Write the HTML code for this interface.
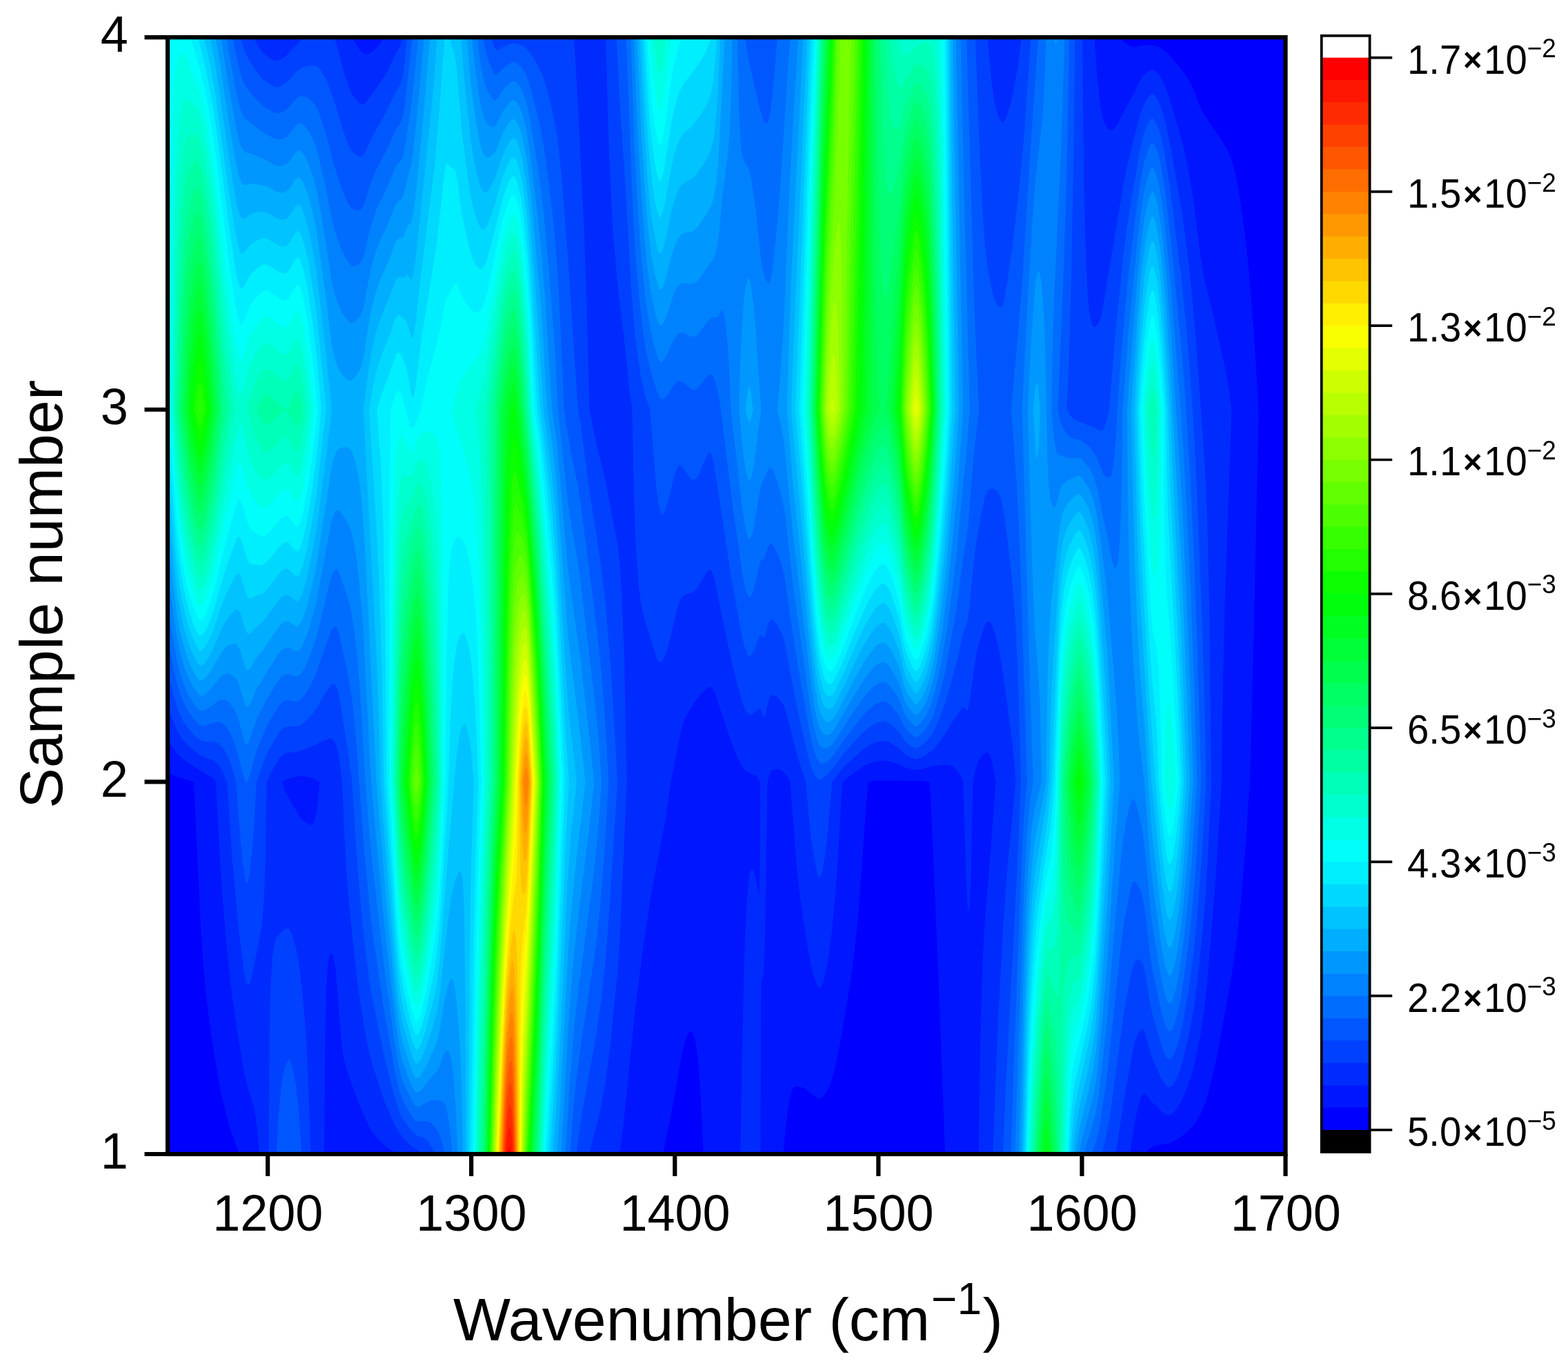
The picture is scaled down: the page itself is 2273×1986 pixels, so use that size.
<!DOCTYPE html>
<html lang="en"><head><meta charset="utf-8"><title>Contour plot</title>
<style>html,body{margin:0;padding:0;background:#fff;width:2273px;height:1986px;overflow:hidden}svg{display:block}text{font-family:"Liberation Sans",sans-serif;fill:#000}</style></head>
<body>
<svg width="2273" height="1986" viewBox="0 0 2273 1986">
<defs><clipPath id="fr"><rect x="243" y="54.1" width="1620.5" height="1618.9"/></clipPath></defs>
<rect width="2273" height="1986" fill="#fff"/>
<g clip-path="url(#fr)" fill-rule="evenodd" shape-rendering="geometricPrecision">
<rect x="243" y="54.1" width="1620.5" height="1618.9" fill="#0000ff"/>
<path fill="#0016ff" d="M346.7 1673l614.3 0 13.8-67.6 11.8-67.1 4.4-21.9 4.5-13.6 2.9-5.2 3-2.1 1.4 0.3 1.5 1.6 3 8 2.9 16.7 1.5 12.7 4.4 59.3 3.6 78.9 115.8 0 3.1-34.5 2.9-25.3 3-18.4 1.4-6.8 3-8.9 1.5-2.3 2.9-1.7 10.3 1.4 6 3 7.3 6.6 7.4 5.3 3 1.3 2.9-0.5 4.4-4 5.9-9.5 4.5-10.8 4.4-14.4 5.4-24.4 13.8-80.6 5.9-37.1 4.4-33.5 6.3-64.7 9.9-138.5 3.6-41.3 8.2-1.6 7.4-0.6 62 1 11.4 1.2 4.8 94 10.2 247.7 7.3 197.9 290.1 0 2.2-3.6 3-3.2 7.4-4.6 5.9-1.8 16.2-2.4 10.3-4.8 5.9-3.8 8.9-7.1 8.8-8.7 4.5-5.8 4.9-8.2 5.4-10.8 4.4-10.9 4-14.2 12.2-51.7 17.7-96.5 5.9-35.2 6.7-50.5 5.5-53.9 5.9-72 6-89.9 5.8-215.9 6.9-323.8 -7.9-125.9 -7.7-89.9 -4.9-42.6 -5.9-43.3 -4.5-26.6 -4.4-20.5 -4.4-14.7 -5.9-13.5 -8.9-14.7 -26.5-38.8 -4.4-9.6 -7.4-20.4 -8.9-17.7 -8.8-13.3 -19.2-22.5 -5.9-6 -8.9-5.8 -8.8-2.5 -10.3 0.2 -16.3 2.4 -5.9-0.9 -7.3-4.4 -3-3 -3.9-5.6 -1383 0 0 1067 4.5 0.8 11.8 4.7 23.1 6.8 10.4 215.8 3.8 54 4 42.3 8.7 65.6 11.9 70.6 9 37.3 5.2 18z"/>
<path fill="#002bff" d="M375.8 1673l94.2 0 1-143.9 1.8-89.9 1.8-34.5 1.5-13.1 1.5-6.7 1.5-2.8 1.4-0.1 1.5 1.9 1.5 4.1 2.9 16.3 8.6 106.8 3.2 22.2 4.5 18.5 14.7 40.6 17.7 41 4.5 7.4 5.9 7.4 8.8 9.3 7.4 6.2 7.4 4.8 8.8 4.5 320.3 0 5.8-44.8 16.2-160.8 11.8-92.2 11.8-78.3 20.7-107.7 7.9-55.8 3.9-17.2 10.3-53.6 3-11.4 2.9-8.5 7.4-14.3 10.3-15.1 13.3-14.8 2.9-2.2 3-0.9 2.9 1.7 4.5 8.8 23.6 70.8 5.9 15.1 7.4 15.8 5.9 8.8 4.4 3.2 8.8 3.4 3 1.8 2.9 2.9 3.3 5.7 -0.3 124 -1.2 37.9 -0.3 2.5 -5.9-30.4 -2.9-7.2 -1.5-0.9 -1.5 1.6 -1.5 4.5 -1.4 8.4 -3.4 39.4 -2.4 54 -2 72 -4.5 233.8 29.2 0 0.8-249.9 1.4-5.9 1.5 2.1 1.5-18.9 1.5-49.2 3.5-217.8 2.4-9.5 2.9-5.8 3-2.2 4.4-1.3 4.4 0.4 5.9 3.7 4.4 5.2 5.4 9.5 9.4 121.3 2.9 29.1 4.5 34.2 10.3 65 4.4 22.3 3 10.5 4.4 12 3 4.2 1.4 0.1 1.5-1.4 3-6.9 4.9-20.6 3.9-22.7 4.4-35.9 4.5-47.3 2.8-38 7.2-125.9 7.7-6.2 25-17.5 11.9-4.9 8.8-1.8 7.4-0.4 8.8 1.4 13.3 4.1 8.9 4.9 13.2 3.1 5.9-0.3 20.7-5.1 16.2-2.2 8.9 0.9 2.9 1.2 4.5 3.6 7.3 9.7 3.9 9.5 5 157.4 1.5 24.7 1.4 7.9 1.5-9.6 1.8-36.5 2.9-143.9 4.2-19.1 4.4-12.3 5.9-7.8 4.4-3.4 3-0.3 1.4 1.2 1.5 2.7 3 10.2 5.3 28.8 -8.3 113.6 -7.2 84.2 -3 54 -3.9 125.9 -2.5 161.9 219.5 0 6.6-43.7 3-15.4 5.9-20.7 2.9-6 1.5-1.5 1.5-0.5 1.5 0.6 8.8 11.9 7.4 6.5 5.9 6.6 5.9 4.5 4.4 1.6 3-0.4 2.9-1.7 4.4-4.5 4.5-6 4.4-8 7.4-17.3 5.1-13.9 6.7-23.3 7.4-36 5.9-37.1 4.4-36.9 12.6-154.5 8.9-143.9 2.1-146.6 2.8-123.3 9.6-269.8 -5-36 -5.9-31.7 -16.3-71.5 -10.3-41.1 -4.4-21 -4.4-28.9 -9.4-75.6 -6-35.9 -6.8-33.1 -5.4-20.9 -15.2-52.6 -4.5-13.4 -4.4-11 -4.4-8.6 -3-4.4 -4.4-4.7 -4.4-2.4 -3 0.3 -5.9 3.5 -5.9 6.1 -5.9 9.6 -8.8 18.3 -8.9 15.8 -11.8 24.1 -5.9 8 -4.4 2.4 -1.5-0.2 -2.9-1.9 -4.5-6.8 -2.9-8.8 -3-14.4 -2.9-21.1 -2.8-27.7 -3.9-54 -1028.5 0 -9.4 12 -7.4 7.7 -5.9 4 -4.4 1 -4.4-1.5 -4.4-4.4 -6-8.8 -5.3-10 -269.1 0 0 1020.4 4.5 2.5 8.8 13.3 7.4 8 10.3 7.4 32.5 20 4.4 3.7 3.5 4 5.7 107.9 3.5 54 6.1 71.9 6.3 61 9 64.9 10.2 60.1 4.4 20.1 8.8 27.6 3 13.4 2.9 21.9zM437.8 1188.4l-4.5-6.4 -19.2-33.3 -2.9-6.9 -2.4-8.4 3.9-2.4 5.9-2.2 10.3-2.9 7.4-1 5.9 0.5 8.8 2.1 5.9 2.3 6.4 3.6 -3.1 35.9 -1.8 10.8 -2.9 10.6 -1.5 2.9 -1.5 1.7 -1.5 0.6 -1.4-0.2 -7.4-3.9z"/>
<path fill="#0041ff" d="M389.4 1673l61.3 0 -5.6-143.5 -2.9-47 -3.9-43.3 -5-41.5 -4.4-24.3 -5.9-19.6 -3-5.8 -2.9-2.3 -1.5 0 -2.9 1.4 -11.8 11.3 -1.5 3 -1.6 5.8 -2.8 20.4 -2.3 33.6 -1.6 53.9zM589.6 1655l7.5 7 11.8 7.3 4.6 3.7 240.7 0 15.8-62.1 8.3-45.8 6.9-54 9.9-101.9 3-42.5 3.5-71.4 6.9-161.9 -3.6-179.9 -4.5-107.9 -2.3-31.7 -2.6-22.3 -16.8-89.9 -14.6-60.3 -9.5-47.7 -4.4-161.9 -3.9-107.9 -10.2-203 -2.9-48.9 -1.7-17.9 -247.9 0 -1.3 6 -2.9 8.2 -7.4 13 -11.8 24.9 -22.1 32.3 -8.9 11.3 -2.9 1.7 -1.5-0.1 -2.9-1.4 -4.5-4 -5.9-7.5 -4.4-8.3 -8.9-26.3 -10.3-38.8 -3.5-11 -43.7 0 -25.1 26.1 -8.8 6.3 -5.9 1.6 -3-0.3 -4.4-1.7 -11.8-8.9 -5.9-7.6 -8.6-15.5 -125.7 0 0 973.8 3 2.2 1.5 2 10.3 26.2 4.4 8.1 4.4 6.1 8.9 9.5 14.7 12.1 5.9 3.1 13.3 4.4 5.9 3.8 3 3.3 4.4 7.2 7.9 17.5 7.2 107.9 9.9 107.9 7.5 59.4 2.9 14.6 1.5 3.6 1.5 1 1.4-1.2 1.5-2.9 4.4-15.9 11.2-58.6 2.4-18 2.6-35.9 1.3-36 2-125.9 5.6-11.8 11.8-20.8 3-3.9 4.4-3.4 5.9-2.3 13.3-1.8 5.9-1.5 22.1-8.8 8.9-5.2 10.3-3.2 2.9 0.3 1.5 0.7 3 3 1.4 2.5 3 9.2 1.5 7.8 5.2 39.2 2.9 71.9 3.1 54 3.5 45 6.2 62.9 7.1 63.1 9.6 62.8 5.2 26.1 5.9 24 17.7 53.1 13.2 30.9 4.5 8.9 5.9 9.2zM1439.3 1673l177.9 0 11.2-72.8 12.7-71.1 3.5-17.1 4.5-13 4.4-6.3 1.5-0.7 1.4 0.2 1.5 1.3 3 6.5 5.9 23.3 2.9 9.1 13.3 29.8 2.9 5.4 4.5 6.2 2.9 2.3 3 0 2.9-2.3 4.4-6.7 4.5-9.2 3.8-10.8 10.9-43.7 7.4-39.4 7.9-60.8 8.3-88.7 4.5-70.5 5.1-110.6 -2.9-251.9 -3.5-143.9 -3.6-71.9 -12.8-177.3 -4.9-56.6 -5.7-53.9 -8.6-66.4 -16.5-95.5 -7.4-36 -7.1-24.7 -3-7.3 -4.4-7.7 -2.9-3.2 -3-0.6 -4.4 3.5 -4.4 6.3 -4.5 9.2 -4.4 12.9 -16.6 65.6 -5.5 25.4 -32.5 194.2 -1.5 5.9 -2.9 7.7 -4.4 6 -1.5 0.8 -1.5-0.1 -1.5-1.4 -2-4.7 -3.3-18 -2-21.7 -2.7-50.2 -3.1-125.9 -2-197.9 -87.7 0 -6.3 45.5 -7.4 39.4 -4.4 17.3 -4.5 14 -2.9 5.8 -1.5 1.4 -1.5 0.1 -2.9-3.2 -3-6.6 -2.9-9.2 -3-14.1 -4.4-33.4 -5.3-57 -553.3 0 4.8 161.9 3.2 71.9 3.2 54 6.1 72 8.7 70.8 8.8 83 3.7 26 1.9 108 3.3 90.8 4.4 58.5 3 22.7 4.4 21.6 17.7 56.3 2.9 6 1.5 1.7 1.5 0.6 1.5-0.5 1.4-1.5 3-5.5 4.4-12.4 4.4-16 8.9-37.8 3-10.2 2.9-7.4 4.4-5.9 3-1.4 8.8-2.1 4.5-3 5.9-7.6 11.8-20.1 2.9-2.7 1.5-0.2 1.5 0.9 2.9 6.3 3 11.6 18.6 91.1 8.1 36 11.6 43.6 3 9.1 2.9 6.3 4.5 4.9 2.9 0.5 4.4-2.4 5.9-5.7 1.5-0.9 1.5 0.1 1.5 1.7 2.9 8.4 1.5 2.3 1.5-2.6 5.9-24.2 2.9-4.5 3-0.7 4.4 2 5.9 5.5 4.4 7.1 3 7.1 19.1 72.9 10.4 31.4 4.7 53.9 4.1 37.1 5.9 33.9 3 10.4 1.5 2.6 1.4 0.2 1.5-2.3 1.5-4.7 4.4-25.5 4.4-37.4 5.4-68.2 13.8-17.9 13.3-12.8 20.6-18.2 8.9-5.5 7.4-3.2 10.3-1.8 4.4 0.6 4.5 1.4 14.7 8.7 8.9 9.4 10.3 5 4.4 1.2 4.4-0.8 8.9-4.1 5.9-4.1 5.9-5 6.2-6.9 8.6-11.4 13.2-22 7.4-9.5 5.9-9.6 1.5-1.3 1.5-0.1 4.4 4.8 1.5-1 1.4-4.5 1.5-8.2 8.9-63.3 2.9-14.4 5.9-21.1 4.4-12 1.5-2.5 3-2.6 1.4-0.1 1.5 0.9 1.5 1.9 2.9 6.7 7.4 25 5.9 31.9 14.8 110.8 2.9 29.7 1.8 25.9 -12.1 125.9 -6.4 89.9 -7.6 143.9z"/>
<path fill="#0057ff" d="M400.9 1673l36.5 0 -4.1-59.7 -4.4-40.7 -3-16.5 -2.9-11.9 -3-6.7 -1.4-0.8 -1.5 0.8 -3 6.2 -2.9 11.1 -3 16.3 -4.4 45.8zM620.6 1655l6 8.9 4.3 9.1 204.5 0 8.1-58.1 20.6-113.5 7.4-50.8 5.1-47.4 5.2-61.9 11.9-186.6 1.2-21.3 -1.8-36 -8.3-137.4 -6.4-78.5 -8.4-70.6 -16.2-103.1 -11.8-90.5 -4.2-23.6 -14.2-215.8 -8.4-107.9 -3.3-36 -3.8-32.8 -3.4-21.2 -5.5-25.8 -8.8-33.1 -4.5-12.7 -4.4-10 -7.4-13 -7.3-11 -5.9-5.9 -5.9-3.6 -7.4-2.2 -5.9 0.4 -8.9 3.5 -10.3 5.4 -2.9 0.4 -1.5-1.1 -1.5-2.4 -4.9-14.8 -121.6 0 -4.8 48.7 -1.5 8.7 -2.9 9.4 -8.9 15.3 -11.8 25.8 -19.2 33 -13.2 28.7 -3 3 -2.9 0.5 -4.5-1.7 -5.9-4.6 -2.9-3.8 -3-5.5 -8.8-23.7 -10.4-35.1 -10.3-29.9 -2.9-7 -4.5-8 -5.9-8.9 -2.9-2.8 -4.4-1.4 -7.4 0.4 -4.4 0.7 -5.9 2.1 -7.4 5.1 -10.4 12.3 -5.9 5.3 -7.3 4.4 -4.5 1.1 -2.9-0.2 -5.9-2.3 -10.3-7.1 -4.5-3.9 -4.4-5.4 -11.8-18 -5.9-10.7 -4.4-11.2 -3.9-13.3 -106.8 0 0 927.2 3 3 2.9 7.2 5.9 23.2 5.9 17.7 5.9 12 7.4 11.1 11.8 13.1 5.9 4.7 5.9 1.8 14.8 0.2 2.9 0.7 3 1.7 4.4 4.2 4.4 5.9 5.9 11.6 5.9 16.8 4.8 17.2 4.1 55.7 4.7 52.2 4.1 32 1.5 5.6 1.5 1.3 1.5-2.9 1.4-6.9 4.5-37.5 2.9-39.9 3.4-59.6 11.4-31.8 4.4-10.7 14.7-26.1 4.5-6.2 4.4-3.4 4.4-1.8 4.4-0.5 10.4 0.2 2.9-0.8 4.5-2.6 8.8-7.7 10.3-12.3 3-4.3 7.4-13.7 11.8-18 1.4-1.5 3-0.8 2.9 1.8 1.5 2.4 3 9.9 2.9 16.7 10.3 64.1 5.9 43.8 7.4 114.7 7.3 86.4 8.3 72 5.1 33.9 3.7 20 15.5 75.3 14.7 58.3 7.4 22.1 5.9 11.2 13.3 17.7 5.9 4.3 10.3 3.6zM1453.9 1673l143.5 0 7.4-32.1 3.9-21.9 21.2-156.1 8.8-46.7 3-12.8 2.9-8.7 3-3.8 1.5-0.5 2.9 0.7 3 3.1 2.9 7.1 3 13 6.7 42.8 3.6 15.6 13.3 45.4 5.9 13.4 2.9 3.7 1.5 0.6 2.9-1.2 3-4.3 4.4-10.2 4.4-13.8 5.9-27.9 7.4-42.8 7.4-55.3 6.5-67.1 6.5-89.9 5.2-89.9 -2.3-108 -3.1-107.9 -6.1-161.9 -4.9-107.9 -4.4-72 -6.9-89.9 -7-71.9 -17.9-143.9 -8.4-52 -4.4-19.8 -3-10.2 -2.9-7.7 -3-5.6 -2.9-2.7 -1.5 0.1 -1.5 1 -4.4 7 -4.4 10.5 -4.4 15.1 -3 13.4 -16.2 96.7 -7.4 55 -11.5 115 -9.1 107.9 -3 14.9 -3 9.3 -2.9 5.3 -1.5 1.1 -1.5 0.2 -7.3-3.6 -31-12.4 -3-2.4 -2.9-3.6 -5.3-8.8 3.7-89.9 3.4-125.9 2.8-161.9 1.9-161.9 -63.6 0 -10.8 151.6 -5.9 63.4 -10.3 88.1 -7.4 51.2 -2.9 17.5 -3 13 -1.5 4 -1.4 2.1 -1.5 0.5 -3-2.2 -2.9-4.4 -3-7 -2.9-10.2 -5.9-30 -4.5-37.3 -3.4-48.5 -3.7-71.9 -6.9-179.9 -520.1 0 4.5 87 8.8 133.2 8 139.6 4 53.9 4.3 40.2 5.9 38.9 5.9 25.7 7.4 21.1 8.6 108 3.1 25.8 3 14.1 1.5 3.3 1.4 1 1.5-1 3-5.8 4.4-14.7 8.8-35.8 3-8.7 3-4.5 1.4-0.8 3 0.9 2.9 3.2 7.4 11.4 3 3.5 2.9 1.8 3-0.2 2.9-2.8 3-5 11.8-27.6 2.9-3.8 1.5-0.3 1.5 1.4 1.4 3.5 3 13.3 25.1 165.7 14.3 77.9 4.9 21.4 4.4 10.2 1.5 1.5 1.4 0.4 1.5-0.7 4.4-6.4 7.4-19.9 1.5-2.7 1.5-0.8 2.9 3.3 1.5 0.6 1.5-2.8 4.4-16.7 2.9-5.8 1.5-1 1.5 0 2.9 2.2 4.5 6.1 4.4 7.8 2.9 6.8 3 9.2 19.2 99.9 13.3 58.3 4.4 17.1 3.2 9.9 4.2 8.4 4.4 5.2 1.5 0.7 2.9 0 3-1.8 5.9-5 8.8-9.8 14.8-20.2 26.5-29.3 10.4-9.2 7.3-4.9 4.5-2.1 5.9-1.7 4.4-0.2 4.4 1.3 4.4 2.5 13.3 11.9 8.9 14 8.8 6.5 4.4 2.3 4.5-0.1 7.3-4.6 7.4-7.1 5.9-8 4.5-8 5.6-12.8 10.6-29.4 16.2-58.6 7.4-34.8 5.9-15.2 1.5-6.2 2.4-17.7 4.9-51.7 4.5-37.4 7.3-44.6 5.9-27.8 1.5-4.2 3-4.9 2.9-2.3 3-0.4 2.9 1 4.5 3.4 2.9 3.9 3 6.9 4.4 22.2 7.4 59 4.4 40.9 4.4 55.2 4.1 88.8 4 143.9 -5.1 116.6 -16.3 313.7z"/>
<path fill="#006dff" d="M640.4 1655l3.9 18 182.1 0 5.3-70.7 4.4-42.3 7.4-54.5 18.3-120.3 4.6-36 3.7-36 5.8-73.4 6.5-106.4 -3.5-61.9 -4.4-64 -4.5-50.8 -4.2-39.2 -23.8-185.9 -4.4-28 -10.3-49.1 -9.5-60.8 -7.3-161.9 -3.3-53.9 -3-36 -5.8-54 -8-61.8 -5.9-35.5 -6.4-28.6 -11.3-42.6 -4.5-11.3 -5.9-10 -2.9-3.2 -4.4-3.5 -3-1.1 -2.9 0.1 -3 1 -4.4 2.8 -7.4 5.9 -7.4 7.6 -1.4 0.9 -1.5 0 -3-3.7 -7.3-17.9 -4.5-15.9 -3.4-17 -102 0 -11.1 98.4 -3 17.3 -2.9 7.2 -7.4 11 -11.8 26.9 -17.7 33.8 -8.3 21.3 -6.5 22 -2.9 7.8 -1.5 2.2 -2.9 2.3 -3 0.6 -3-0.1 -4.4-1.5 -4.4-4.4 -4.4-8.1 -4.5-10.2 -5.9-16.2 -10.3-32.9 -8.8-35.3 -10.4-31.6 -2.9-7.3 -3-5 -7.3-7.6 -4.5-3.4 -4.4-1.9 -4.4-0.5 -3 0.8 -4.4 3.6 -11.8 14.5 -7.4 4.8 -5.9 1.7 -4.4-0.4 -4.4-1.7 -16.3-10.6 -5.9-5.9 -13.2-15.6 -4.5-6.5 -2.9-6.2 -5.9-19.3 -9.3-44 -95.5 0 0 880.7 3 3.8 2.9 9.2 5.9 30.2 5.9 22.9 4.5 12 7.3 15 4.5 7.2 6.3 8.3 5.5 6.1 2.9 2.1 3 0.9 2.9-0.1 16.2-5.3 4.5-0.5 5.9 2.1 5.9 5.2 5.9 10.2 6.4 15.3 3.9 13.1 7.4 30.3 1.5 5.2 2.9 6.6 1.5-0.9 2.9-6.7 11.8-41.5 13.3-31.2 5.9-10.8 11.8-19.5 3-3.7 2.9-2.5 4.4-2.2 3-0.6 10.3 1.7 4.5-0.1 4.4-2.9 4.4-5.3 7.4-11.3 10.3-20.8 8.9-26.7 13.2-36.2 1.5-2.3 3-1.9 1.4 0.1 1.5 1.1 1.5 2.4 2.9 9.6 10.4 47.2 7.3 41.5 5.9 55.7 11.9 165.2 8.8 91.9 4.4 34.9 14.8 100.5 17.7 99 4.4 18.8 4.4 14 3 6.3 11.8 20.7 4.4 5.3 3 1.8 2.9 0.5 8.9-0.8 5.9 1.7 4.4 2.7 4.4 4.8 3 4.7 2.9 5.9zM1465.3 1673l116.9 0 6.4-16.8 4.4-18.1 11.2-73 19.8-186.2 5.9-44.5 8.8-44.2 3-9.3 1.5-2.5 1.4-1 1.5 0.4 1.5 1.6 4.4 8.5 3 8.5 2.9 12.7 3 19.4 5.9 53.2 2.9 20 14.8 69.4 4.4 14.4 3.6 7.6 2.3 2.2 1.5-0.1 2.9-3.4 3-6.8 3.2-9.9 5.6-24.1 7.2-47.8 6.1-47.9 4.4-42.5 4.6-53.5 7.9-125.9 -5-179.9 -5.2-143.9 -6.1-125.9 -7.9-125.9 -4.5-54 -14-143.9 -8-72 -4.6-30.5 -4.4-23.4 -2.9-11.3 -3-8.5 -2.9-5.5 -1.5-1.1 -1.5 0.1 -1.5 1.4 -2.9 5.6 -6.4 19.3 -5.4 26.5 -5.9 41.9 -11.8 96.7 -5.2 50.7 -7.2 90 -3.7 53.9 -1.8 36 -2.8 34.5 -2.9 19.9 -1.5 5.1 -1.5 2.5 -1.5 0.7 -4.4-1.4 -2.9-2 -1.5-2.1 -8.9-23.5 -4.4-7.7 -5.9-7.1 -13.3-10.3 -2.9-1.2 -5.9-0.6 -4.4-2.1 -4.5-3.7 -4.4-4.8 -2.9-4.8 -3-6.6 -2.9-10.1 -1.5-7.6 -0.5-3.1 0.5-13.2 7.4-176.8 3.3-97.8 2.8-107.9 2.7-143.9 -45.1 0 -12.4 177.8 -11.8 191.7 -15 170.1 7.6 102.4 3.9 77.5 3.9 107.9 7.4 251.9 -4.6 53.9 -2.8 54 -10.6 269.8zM1183.5 1097.4l3.8 6.6 2.9 2.3 3 0.1 2.9-1 5.9-3.9 7.4-8.1 13.3-19.9 29.5-37.9 5.9-6.1 8.8-7.4 4.5-2.6 5.9-2.2 4.4-0.3 2.9 0.9 4.5 2.9 2.9 2.7 11.8 14.3 7.4 16.2 4.4 5.6 7.4 6.5 2.9 1.9 3 0.3 2.9-1.3 6.2-5.6 5.6-7.1 4.5-7.4 4.4-9.6 9.5-29.8 8.7-36 16.1-90 8.5-65.9 6.8-42 2-19.2 7.4-94.1 7.6-66.6 -3.5-71.9 -4.1-107.5 -10.3-360.2 -274.2 0 -6.1 71.9 -3 27.3 -2.9 17.8 -1.5 4.9 -1.5 2.4 -1.5 0.3 -1.4-1.3 -3-5.1 -4.4-13.2 -16.2-71.9 -3-16.3 -2.2-16.8 -172.6 0 8.3 215.9 2.7 57 3.3 50.9 4.6 53.9 5.4 47.8 4.4 28.3 5.9 26.3 5.9 20.9 4.5 13.3 4.4 8.4 2.9 1.8 3-1.1 2.9-2.8 10.4-15.6 2.9-3.6 3-2.4 2.9-0.7 3 0.7 4.4 2.9 8.9 7.4 2.9 1.5 3 0.2 2.9-1.3 3-2.8 10.3-13.7 4.4-4.2 3-0.4 1.4 1 3 4.9 4.4 14.6 4.4 24.3 18.5 150.1 14 96.9 4.4 21.5 3 7.8 1.5 1.9 1.4 0.3 1.5-1.2 1.5-2.5 2.9-8 8.9-38.6 1.5-3.4 4.4-2.8 5.9-16.7 1.5-2.7 1.4-1.6 1.5-0.4 1.5 0.7 4.4 6.9 5.9 13.9 4.4 13.2 3 12.4 14.6 100.3 18.6 107.9 6.6 33.4 3 10.7z"/>
<path fill="#0082ff" d="M654.4 1655l1.4 18 163.9 0 6.1-103.2 7.4-90 5.9-50.3 20.6-155.1 5.9-55.6 4.4-53.9 2.2-31.5 -4-54 -5.5-59.1 -22.2-185.8 -3.7-24.9 -8.1-45 -5.9-40.7 -14.1-130.2 -3.5-71.9 -3.5-54 -7.2-89.9 -6.6-72 -7.9-61.1 -10.4-64.8 -5.8-28.2 -2.9-9.9 -4.5-11.2 -5.9-9.3 -4.4-3.4 -1.5-0.3 -2.9 0.8 -5.9 4.6 -7.4 8.4 -7.4 11.4 -2.9 2.9 -1.5-0.1 -1.5-1.1 -2.9-3.7 -5.9-9.6 -3-8.2 -2.9-11.3 -4.5-24.1 -4.3-33.6 -85.2 0 -9.3 93.5 -10.3 67.1 -3 13.3 -1.5 3.2 -5.9 6.7 -2.9 4.8 -11.8 27.9 -16.2 33.5 -8.9 26.5 -8.8 38.7 -3 8 -2.9 4.1 -3 2.3 -4.4 1.8 -3 0.2 -2.9-1.2 -1.5-1.2 -5.9-8.7 -5.9-11.9 -5.9-15.6 -5.9-18.5 -3-11.8 -7.3-40.3 -13.3-58.2 -5.9-15.4 -5.9-11.3 -4.4-6.4 -5.9-5.5 -3-1 -1.5 0.2 -4.4 3.1 -8.9 12.1 -4.4 4.3 -7.4 3.6 -5.9 0.5 -5.9-1.9 -19.1-11.1 -22.2-17.6 -2.9-4.5 -3-6.9 -4.4-16.1 -8.8-44.6 -7.9-45.7 -86.6 0 0 834.1 3 4.7 2.9 11.3 5.9 37.1 5.9 28 5.9 18.9 7.4 17.2 8.9 14.8 4.4 6 2.9 2.8 4.5 1.5 4.4-1.4 6.2-3.7 11.5-9 5.9-2.6 5.9 0.5 2.9 1.7 3 3 5.9 8 3 5.4 4.4 12.7 7.4 27.4 2.9 6.6 1.5 0.4 1.5-1.5 1.4-2.9 8.9-26.6 4.4-10.5 13.3-26.3 17.7-28 4.4-4.2 5.9-2.5 4.4 0.4 8.9 3.1 3-0.2 4.4-3.7 5.9-9.9 6.1-13.2 10.1-28.6 22.1-90.3 3-6.4 2.9-2.8 1.5-0.3 1.5 0.9 1.5 2.1 10.3 29.7 5.9 20.5 4.2 21.2 3.2 23.1 3.3 30.9 4.1 47.3 7.8 132.6 5.4 69.8 4.5 47.1 17.7 154.3 14.7 106.5 5.9 34 3 12.8 4.4 12.9 11.8 25.3 4.4 6.5 3 1.8 2.9 0 8.9-5.2 7.4-3.7 2.9-0.9 7.4 0.7 5.9-0.3 2.9 1.9 3 6.1 4 16zM1471.2 1673l99.8 0 16.1-54 2.9-13.8 3-19.1 12.3-111 11.3-139.8 8.8-95.6 3-24 4.4-26.4 4.5-20.1 2.9-8.8 1.5-1.9 1.5-0.1 1.4 1.7 3 7.8 5.9 23.4 2.9 15.8 4.5 35.6 8.1 88.5 14 85.5 4.4 20 4.4 14.1 3 4 1.5-0.1 2.9-3.9 4.4-13.3 5.9-26.8 8-61.5 5.8-53.9 4-44.1 8-117.8 -4.3-143.9 -5.5-143.9 -6.1-126 -6.9-113.9 -15.2-191.8 -8.4-86.8 -4.4-33.5 -4.5-25.5 -4.4-16.9 -2.9-6.8 -1.5-1.3 -1.5 0.2 -1.5 1.8 -4.4 11.5 -4.4 17.2 -4.4 24.9 -5.9 48.1 -13.6 139 -8.1 107.9 -1.4 108 -2.1 71.9 -2.6 36 -1.8 9.4 -1.4 3.3 -1.5 0.6 -1.5-1.4 -2.9-7.8 -7.4-39.1 -7.4-31.3 -5.9-32 -4.4-15.7 -4.4-10.6 -5.9-9.5 -8.9-9.7 -2.9-2.1 -3-0.3 -4.4 1.1 -4.4-0.1 -8.9-1.9 -10.3-3.5 -1.5-2 -1.5-4.2 -1.5-6.9 -2.9-22.9 -2.3-29.3 1.5-89.9 3-89.9 9.6-203.8 4.9-156 -27.2 0 -1.3 49.3 -1.8 40.6 -2.8 36 -8.7 76.5 -4.4 56.5 -7.2 118.8 -8.3 161.9 11.1 388.9 5.2 150.8 -3.8 21.7 -2.9 26.6 -3.3 41.6 -2.6 44.8 -3.3 81.1zM1187.8 1079.4l2.4 3.5 4.4 2.4 4.5-0.5 5.9-4 4.4-5.2 25.1-39.7 19.1-27.3 13.3-14 5.9-3.9 5.9-2.3 3 0 2.9 1.2 5.9 5.1 13.3 19.6 7.4 20.2 2.9 5.2 10.4 11.3 2.9 1.4 3-0.6 4.4-4.1 5.9-7.9 4.4-8 4.5-10.3 5.9-19.3 8.8-40.2 8.9-52.5 13.2-103.2 8.9-95.7 5.9-54.9 4.6-62 -7.6-288.3 -5.7-251.3 -246.7 0 -4.2 54 -10.4 161.9 -5.9 70.9 -5.9 53.7 -3 13.3 -1.4 2.8 -1.5 0.6 -1.5-1.3 -2.9-6.9 -3-10.7 -2.9-15.4 -8.9-82.9 -5.9-37.8 -2.9-11 -1.5-3.3 -5.9-8.9 -3-12.7 -2.1-22.4 -1.7-36 -2.3-107.9 -154.7 0 5.6 161.9 3.8 71.9 3.9 57.5 4.2 50.5 4.6 42.4 5.9 36.5 5.9 26.2 5.9 18.8 3 4.7 1.5 0.7 1.4-0.3 4.5-5.4 11.8-26.4 5.9-8.7 2.9-2 4.5-0.3 11.8 5.5 2.9 0.6 3-0.5 2.9-1.9 3-3 11.8-16.2 4.4-4.7 2.9-1.4 7.4-0.4 1.5-1.3 4.4-8.5 1.5-0.5 1.5 2.5 3.1 15.5 3.5 36 2.2 37.3 2 52.6 16.7 143.9 4.9 31.1 3 9.8 1.5 2.3 1.4 0.3 1.5-1.8 1.5-3.5 2.9-11 7.4-46.6 3-14.2 10.3-23.3 2.9-2.8 1.5 0.2 3 3.9 4.4 11.7 5.9 19.1 4.4 18.9 3 18.9 10.6 95 24.8 175.3 3.8 22.5 3.6 16.8 2.9 10.6z"/>
<path fill="#0098ff" d="M663.7 1673l149.8 0 10-179.9 6.7-90.3 5.9-56.1 17.7-143.7 7.4-69.6 -7.6-72 -13.1-113.5 -13.2-91.8 -4.5-36.3 -14.7-168.3 -3-25.6 -4.9-32.2 -10.1-161.9 -4.2-53.9 -4.4-45.1 -13.8-116.8 -3.9-23.8 -4.4-19.4 -3-9.6 -4.4-10.2 -4.4-6.3 -3-1.4 -1.4 0.2 -3 1.7 -7.4 8.9 -5.9 9.4 -8.8 17.6 -1.5 1 -1.5 0.2 -5.9-1.8 -2.9-2.3 -1.5-2.1 -3-6.6 -2.9-9.7 -4.4-22.2 -5.9-42.1 -4.8-43.4 -69 0 -9.7 107.9 -5.5 54 -4 24.4 -4.4 15.7 -5.9 26.5 -3 5.6 -5.9 4.5 -2.9 4.7 -10.3 25.6 -11.8 25.3 -5.9 14.5 -4.5 14 -4.4 17.2 -8.8 48.1 -3 10.5 -2.9 6 -4.5 5.3 -4.4 3.5 -3 1 -1.4-0.1 -3-1.7 -2.9-3.1 -7.4-11.1 -5.9-13.1 -5.9-18.5 -3-13.4 -7.3-50.6 -13.3-77.5 -4.4-17.7 -5.9-17.7 -4.5-11.1 -4.4-8.1 -4.4-5.5 -3-1.2 -1.4 0.4 -4.5 4.1 -7.4 10.9 -2.9 3.3 -5.9 3.3 -5.9 1 -5.9-1.3 -14.8-8.2 -7.3-2.8 -11.8-5.5 -8.9-2.3 -2.9-1.8 -3-4 -2.9-7.2 -5.9-24.8 -10.4-57.9 -11.1-71.1 -78.9 0 0 787.5 3 5.6 1.5 5.4 9.4 64.9 6.8 32.4 5.9 19 5.9 14.9 8.8 16.2 5.9 7.3 1.5 0.9 3 0.3 4.4-2.4 7.4-6.8 11.8-14.9 4.4-4.6 5.9-3.5 4.4 0 7.4 3.7 4.4 5 4.5 11.2 7.3 25.1 1.5 3 1.5 1.2 1.5-0.5 2.9-4.6 10.3-23.9 5.9-8.7 10.4-18 16.2-24.5 4.4-4.1 5.9-2.4 4.4 0.8 7.4 4.1 3 0.6 1.5-0.3 2.9-2.4 4.4-7.7 8.9-23.2 10.3-37.3 22.1-117.6 3-9.2 2.9-5.2 3-2.2 2.9 1.4 7.4 10.1 4.4 7.3 3 6.2 2.9 9 4.5 21.5 5.9 44 5.9 69.8 11.7 224.9 1.6 19.3 17.7 188 15.1 134.4 7 46.4 4.4 18.5 11.8 30.7 4.4 9.1 3 3.2 1.5 0.7 2.9-0.7 3-2.5 14.7-18.8 7.4-7.8 3.9-6.8 7.9-21.6 3-2.8 1.4 0 1.5 1.1 2.4 5.3 2 8.9 3 24.4 2.7 38.6zM1476.7 1673l87.1 0 5.6-25.5 14.7-56.1 4.5-22.6 3-21.7 13.2-147 10.3-158.1 8.5-108.6 -2.1-54 -2.9-54 -11.5-143.9 -3.8-35.9 -10.3-79.4 -3-19.2 -2.9-13.8 -4.4-15 -4.5-10.6 -10.3-15.2 -2.9-2.5 -1.5-0.3 -14.8 6.6 -5.9 4.1 -2.9 3 -3 6.3 -5.9 22.5 -1.5 2.7 -1.4 0.8 -1.5-0.8 -1.5-2.4 -2.9-10.9 -2.2-19.8 -1.7-36 -2.9-143.9 -2.1-64.9 -3.1-43 -2.8-17.6 -1.5-3.6 -1.4 0.5 -1.5 4.9 -1.5 9.4 -2.9 31 -4.2 65.3 -4.7 89.9 7.4 250 2.9 65.3 5.9 80.5 1.5 29.8 2.5 114.1 -9.9 39.4 -2.9 16.5 -3.8 34 -3.6 48.7 -3 59.2 -2.7 72zM1690 1403.2l3.3 9.3 1.5 1.7 1.5 0 2.9-4.4 3-9.4 4.4-20.1 2.9-17.4 4.5-36.8 7.4-76.8 8.6-115.9 -6.2-179.9 -7.9-179.9 -4.9-86.6 -13.3-201.2 -7.1-89.9 -6.1-57.7 -5.9-37.7 -4.5-17 -1.4-3.3 -1.5-1.6 -1.5 0.4 -1.5 2.1 -4.4 13.7 -4.4 20.7 -4.4 29.6 -6.9 68.8 -13.1 161.8 -1.3 18 1.8 161.9 1.5 72 2.6 71.9 3.9 72 5.1 71.9 3.6 36 7.2 60 7.4 100.6 2.9 31.1 13.3 97.1 3 17zM1191.5 1061.4l3.1 3.1 4.5 1.2 4.4-1.7 4.4-4.2 28-48.2 16.3-26.1 13.3-16.8 4.4-4.1 4.4-2.9 4.4-1.8 3 0 4.4 2.6 4.4 4.9 13.3 23.5 5.9 19.8 3 7.8 2.9 4.9 7.4 9.7 2.9 2.8 1.5 0.6 3-0.8 2.9-3 5.9-8.7 4.4-8.9 7.4-21.1 5.2-22.5 9.6-55.9 8.9-70 13.2-133.5 8.3-118.4 -10.6-539.6 -228.5 0 -11.7 197.9 -9.8 225.4 -4.4 66.3 -4.6 50 6.1 25.1 4.4 26.4 11.8 123 28 232.9 3.9 24.3 3.5 17 3 10.3zM1081.5 683.7l2.5 9.5 1.5 2.8 1.4 0.2 1.5-2.4 1.5-4.5 2.9-14.1 7.4-59.8 3.4-21.7 -1.9-20.9 -5.9-90.9 -3-36.3 -4.4-33.8 -1.5-6 -1.4-2.5 -1.5 1 -3 11.1 -2.2 16.4 -2.2 25.6 -3.3 64.4 -2.1 71.9 6.9 68.1zM954.3 467.8l2.8 4.3 1.5 0.3 2.9-3.3 4.4-10.2 10.4-31.8 4.4-9.1 3-4.2 2.9-2.4 3-1.1 2.9 0 8.9 1.5 2.9-0.2 3-1.3 2.9-2.4 5.9-7.2 16.2-23.3 3-5.3 2.9-8.5 3.7-21.7 5.2-56.5 7.4-57.9 2.7-29.5 2.4-54 1.8-89.9 -142.5 0 3.4 89.9 3.4 72 4.3 71.9 4 54 3.9 40.5 4.4 33 5.9 31.4 3 11.8zM1528.7 54.1l0.8 8.7 1.5 2.2 1.7-10.9z"/>
<path fill="#00aeff" d="M671.1 1673l136.1 0 4.9-72 9.3-184.4 4.4-70.4 6.2-68.9 16.6-143.9 -10.1-90 -11.2-86.6 -4.5-41.1 -16.2-218.6 -4.4-40.3 -9-63.1 -5-89.9 -3.7-55.7 -14.8-165.4 -5.9-50.2 -2.9-17.3 -4.5-19.5 -2.9-9.2 -4.4-9.7 -3-3.5 -1.5-0.5 -2.9 1.1 -4.4 4.9 -7.4 12.5 -4.4 9.8 -5.9 16 -3 5.5 -8.8 6.3 -3-0.3 -1.5-1.3 -4.4-8.7 -3-10 -7.3-40 -5.9-45.8 -6.1-68.7 -53.1 0 -9.2 107.9 -9.8 100.8 -4.5 40.1 -2.9 15.8 -1.5 3.9 -4.4 5 -1.5 2.9 -4.4 12.1 -1.5 1.9 -5.9 1.7 -2.9 3.1 -1.5 2.7 -8.9 23 -14.7 34.1 -5.9 17.2 -5.9 23.9 -4.4 23.8 -5.9 40.8 -3 13.1 -2.9 7.8 -6 9.8 -4.4 5.1 -1.5 0.9 -2.9 0.5 -3-1.2 -2.9-2.2 -7.6-8.8 -5.7-12.1 -4.4-14.6 -3-15.1 -7.3-60.9 -14.8-105.5 -4.4-20.6 -5.9-22.9 -4.4-13.6 -4.5-10.3 -4.4-6.3 -2.9-0.7 -4.5 4 -7.4 11.5 -2.9 3.4 -4.4 2.6 -4.5 0.8 -7.3-1.2 -13.3-7.6 -4.4-1.7 -17.7-2.7 -3 0.2 -7.4 2 -2.9-1 -1.5-1.5 -2.9-6 -1.5-4.7 -5.9-27.7 -8.9-52.1 -13.3-88.5 -5.8-32.9 -70.9 0 0 740.9 3 6.4 1.5 6.3 10.3 81.2 4.4 24.7 4.4 18.4 6.8 21.5 6.5 15.6 7.4 13.3 2.9 3.3 3 1.1 1.5-0.3 2.9-1.9 7.4-8.5 17.7-30.3 4.4-5.8 4.4-4 10.4-3.2 2.9 1.2 1.5 1.7 4.4 10.4 5.9 19.9 2.9 5.5 1.6 0.5 2.9-2.5 8.9-15.5 8.8-10.2 23.6-34.9 4.4-4.9 4.5-2.7 4.4-0.7 2.9 1.3 8.9 5.9 3 0 1.4-1.1 4.5-7.4 7.3-21 11.8-48.8 3-15.9 7.4-50.5 5.9-35.1 5.9-42.2 4.4-20.8 4.4-10.4 1.5-2.2 2.9-2.7 3-1 5.9-0.6 2.9 0.4 3 1.7 2.9 4 1.5 3.3 3 9.3 2.9 12.6 4.5 25.6 2.9 25.6 4.4 66.1 16.6 336.7 12.9 159.2 14.1 146.6 6.6 51.8 4.4 21.7 13.3 39.5 4.4 8.7 1.5 1.4 2.9 0.4 4.5-4.6 7.4-13.2 15.3-33.8 3.8-14.9 7.4-44.6 4.4-20.1 3-9.5 1.5-2.7 1.4-0.9 1.5 1.3 3 10.7 2.9 22.3 4.4 55.3 2.4 57.1zM1480.3 1673l78.5 0 3.2-22.2 3-15.3 14.7-61.1 4.4-21.5 4.5-27.8 3.4-32 12.8-173.3 10.2-186.4 -9.3-179.9 -2.9-36 -11.3-117.2 -4.4-29.5 -3.3-15.2 -4.1-13.9 -2.9-7.2 -7.4-13.3 -3-4 -2.9-1.3 -3 1.6 -8.8 8.1 -4.4 5.3 -5.9 10.9 -3 9.7 -3.4 22.1 -11.4 101.2 -2.7 42.7 -2 54 -2.6 161.9 -4.5 26.6 -10.3 51.7 -2.9 18.3 -4.5 43.1 -3.7 58.1 -4.9 125.9zM1691.7 1367.2l1.6 4.5 1.5 2 1.5 0.1 1.4-1.7 1.5-3.3 3-10.7 5.9-32.4 2.9-23.1 4.2-43.3 9.8-125.9 -5.8-161.9 -6.1-143.9 -17.3-305.8 -6.6-90 -6.2-61.8 -3-21.9 -2.9-16.4 -3-12 -1.4-3.7 -1.5-1.8 -1.5 0.4 -2.9 6.6 -4.8 20.7 -5.5 36 -3.8 36 -4.3 53.9 -8.8 125.9 1 54 4.8 179.9 2.9 71.9 4 72 8.6 104.4 5.9 93.2 2.9 36.6 13.3 114 4.4 28.2zM1194.4 1043.4l3.2 2.8 2.9 0.5 4.5-1.8 2.9-2.9 4.4-7.1 26.6-50.8 14.7-26 13.3-18.3 4.5-4.2 4.4-3 4.4-1.5 3 0.8 2.9 2.5 4.4 5.7 13.3 27.4 5.9 23 3 9.1 2.9 5.7 7.4 11.3 2.9 3.3 1.5 0.6 3-0.9 2.9-3.4 4.4-7.4 4.5-9.5 5.9-17.4 5.9-25.5 8.8-56.9 8.9-74.6 13.6-159.2 4.9-72 -9.3-539.6 -216.3 0 -17.2 341.2 -2.9 76.5 -3.7 121.9 8.1 99.8 28 269.8 4.5 33.3 4.4 24.4 4.4 15.1zM1501.5 657.8l1.5 7.1 1.5-4.7 1.4-18.2 1.8-48.3 -1.8-24.5 -1.4-11 -1.5-3.4 -1.5 3.7 -1.5 10.2 -2.1 25zM1081 593.7l3 14.2 1.5 3.2 1.4 0.1 1.5-2.9 1.5-5.5 1.7-9.1 -3.2-26.5 -1.5-5.6 -1.4-0.2 -1.5 5.3 -1.3 9zM953.6 413.9l2 4.5 1.5 1.4 1.5-0.3 2.9-5 4.4-13.6 8.9-35.2 4.4-12.5 4.5-8.7 2.9-3.7 3-2.2 4.4-1.5 8.8-1.6 3-1.5 4.4-4 7.4-9.8 7.4-11.7 5.9-10.7 2.9-8 4.4-23.1 3-30.2 9.3-182.4 -127.1 0 6.5 143.9 6.5 101.1 3 31.6 4.4 36.2 4.4 25.8z"/>
<path fill="#00c3ff" d="M675.6 1673l126.1 0 8.5-125.9 12.6-270 5.5-71.8 7.8-71.9 -10.3-89.8 -4.4-50.7 -11.8-194.5 -4.5-59.9 -5.7-54.8 -11.6-90 -6.5-107.9 -12.4-161.9 -5.1-51 -5.9-37.8 -2.9-12.8 -4.5-13.7 -2.9-6 -1.5-1.6 -1.5-0.6 -1.4 0.2 -4.5 4.4 -7.3 13.8 -4.5 10.7 -8.8 28 -8.9 16.4 -2.9 4.2 -1.5 1 -3-0.3 -2.9-3.3 -3-6.5 -4.7-17 -4.1-20 -4.4-27.6 -8.6-78.3 -5.9-72 -34.6 0 -3.8 54 -3.2 36.1 -12.9 125.8 -10.7 100.7 -3 22.9 -1.4 7 -1.5 3.7 -1.5 0.5 -4.4-5.7 -1.5-0.5 -4.4 3.9 -1.5 0.3 -4.4-1.7 -1.5 0.1 -2.9 2.8 -3 6.2 -7.4 20.4 -14.7 35.9 -5.9 19.1 -5.9 27 -4.4 27.3 -7 53.8 19.2 359.8 3.5 89.9 2.3 90 5.6 79.5 14.1 172.3 3.6 37.9 4.4 37.5 4.4 24.9 13.3 44.8 4.4 9.8 1.5 1.5 1.5 0.5 1.4-0.4 1.5-1.3 3-4.7 7.4-17.5 11.8-36.4 4.4-16.9 3.9-25.7 10.8-98.9 5.9-41.5 3-14.1 4.4-14 3-6.3 1.4-1.5 1.5 0.6 1.5 4.6 1.5 12.1 1.4 27.8 1.1 41.2 1.3 125.9zM1482.8 1673l72.2 0 2.6-26.8 4.2-27.2 16.4-72.5 4.5-23.1 4.5-30.3 3.7-36 12.8-197.8 6-125.9 -3-72 -2.9-53.9 -10.6-144 -3.2-32.9 -4.4-31 -5.9-26.8 -2.9-8.8 -7.4-15.8 -3-4.7 -1.4-1.2 -1.5-0.1 -3 2.3 -8.8 11.8 -4.4 8.5 -3.4 8.8 -2.5 8.5 -3 15 -2.9 28.3 -10.4 160.9 -2.2 57.1 -2.2 90 -4.4 35.4 -16.3 98.7 -2.9 26.7 -3 37.9 -3.7 71.1 -2.7 71.9zM1694.8 1333.1l1.5 0.2 1.4-1.8 1.5-3.7 4.4-19.8 4.5-28.7 4.4-42.2 7.9-103.7 -8.9-233.9 -9.3-167.4 -5.9-138.4 -3.2-53.9 -5.7-79.2 -5.9-60.9 -2.9-21.5 -3-16.1 -2.9-10.4 -1.5-2 -1.5 0.5 -2.9 7.6 -4.5 21.6 -4.4 30.9 -4.4 44.2 -3.7 49.3 -5.7 89.9 1.2 54 3.4 125.9 3.6 89.9 16.9 269.9 14.5 143.9 5.2 35 2.9 14.1zM1196.4 1025.4l2.7 2.2 4.4 0.1 2.9-1.9 3-3.7 14.7-29.2 14.8-31.5 14.7-28.6 13.3-20.5 4.5-4.7 5.9-4.2 2.9-0.8 1.5 0.2 2.9 1.9 4.5 5.6 2.9 5.4 11.8 28.3 5.9 26.3 3 10.4 2.9 6.6 7.4 12.8 2.9 3.7 1.5 0.8 1.5-0.1 1.5-1 2.9-3.9 7.4-15.4 5.9-18.2 5.9-26.6 8.9-62.6 8.8-82.8 4.7-56.4 10.2-143.9 -4.6-284.4 -3-255.2 -207.4 0 -19.1 431.7 -4.2 107.9 16.8 181.7 10.9 124.1 5.4 53.3 4.4 32.7 3 15.9 4.4 15.5zM285.8 960.5l2.9 3.5 3 1 1.5-0.5 2.9-2.5 5.9-8.2 4.4-7.9 14.8-34.1 5.9-11.3 4.4-6.3 10.4-10.8 1.4-0.4 1.5 0.5 3 4.1 8.8 27.2 1.5 2.8 1.5 1.4 1.4 0.3 3-1.8 7.4-8.7 7.3-5.1 3-3 22.1-30.2 5.9-5.9 4.4-2.1 3 0 2.9 1.6 7.4 6.6 3 1.1 2.9-1.5 1.5-2 4.4-10.9 5.9-20.4 11.8-57.5 3.7-23.9 20.7-161.9 -2.2-17.4 -5.9-58.9 -14.8-126.7 -4.4-25.7 -7.4-35 -4.4-15.6 -4.4-12 -3-4.9 -1.5-1.2 -1.4-0.2 -1.5 0.7 -3 3.2 -8.8 14 -3 2.7 -4.4 1.5 -4.4 0 -4.5-1.2 -14.7-8.6 -5.9-1.4 -8.9 0.7 -7.3 1.7 -3 1.4 -8.8 6.7 -3-0.7 -1.5-1.8 -1.4-3 -3-9.8 -4.4-22.4 -10.4-63.7 -14.7-103 -5.9-33.8 -5.1-25.2 -62.8 0 0 694.3 3 7.3 1.5 7.2 9.1 82.7 2.7 19.7 4.4 25.3 4.4 19.2 5.9 20.4 4.4 12.2zM953 359.9l2.6 6.4 1.5 1.1 1.5-0.8 2.9-6.7 3-10.7 8.8-42.6 3-11.5 4.4-13.3 3-6.7 2.9-4.9 3-3.4 4.4-3.1 10.3-5.5 5.9-6.1 11.8-17.3 5.9-11.3 3-7.5 2.9-11.5 1.5-8.8 2.9-25.9 3-44.4 2.8-71.3 -116.5 0 5.9 125.9 4.7 72 3.3 35.9 3.9 32.4 4.4 25.8z"/>
<path fill="#00d9ff" d="M679 1673l118.4 0 7.2-107.9 4.1-72 11.2-272.3 5-87.4 -5-70.8 -10.4-199.1 -4.6-71.9 -7.1-76.3 -10-85.6 -4.7-36 -15.2-233.8 -4.1-46.7 -5.9-44.4 -2.9-15.1 -4.5-16.1 -2.9-7 -1.5-1.9 -1.5-0.8 -1.4 0.3 -3 2.8 -2.9 4.9 -7.4 17 -4.4 13.6 -7.4 28.3 -11.8 32.2 -1.5 2.6 -3 2.8 -2.9 0 -1.5-1.1 -4.4-7.7 -5.8-17.7 -4.1-18 -3.4-19.2 -9.5-70.7 -8.2-97.5 -2.9-20.5 -7.7-25.9 -6.8 0 -9.2 125.9 -5.8 65.1 -20.7 164.4 -5.9 54.4 -3 20.3 -1.4 4.9 -1.5 0.7 -1.5-2.8 -5.9-20.3 -1.5-2.2 -2.9-2.1 -5.9-5.8 -1.5-0.4 -1.5 0.7 -1.4 1.7 -3 6.4 -5.9 17.2 -11.8 29.7 -5.9 16.6 -4.4 16.3 -3 13.8 -5.8 35.1 10.9 179.9 3.8 74.4 3.7 123.5 2.6 161.9 15.6 215.8 6.1 68 4.4 33.4 3 13.9 11.8 43.8 4.4 11 1.5 1.6 1.5 0.5 2.9-2.4 3-5.8 7.4-21.8 11.8-47.1 4.4-23.1 4.4-39.9 11.8-150.3 11.5-133.6 1.8-14.6 2.9-17 3-11 2.9-5.3 1.5 0 1.5 2 1.5 3.9 2.9 12.3 3 19.4 4 46.3 -3.4 107.9 -2 107.9zM1485 1673l67 0 2.6-37.8 3-26.2 2.9-17.2 19.2-87.3 5.9-39.9 4.4-43.4 3.6-54 12.3-233.8 -3.5-72 -7.7-125.9 -3.2-46.2 -2.9-31.1 -4.2-30.6 -4.7-23.8 -2.9-10.3 -5.9-14.9 -3-6.5 -2.9-3.6 -1.5-0.1 -1.5 1.1 -2.9 4.3 -7.4 13.3 -4.4 11.6 -4.5 16.5 -2.4 12.4 -3.5 31.3 -2.5 40.6 -4.3 90 -5.6 143.9 -0.9 11 -4.4 40.8 -17.7 116.9 -2.9 27.4 -3 37.7 -3 54 -2.9 71.5zM1690.3 1277.3l3 12.6 1.5 2.7 1.5 0.3 1.4-2 3-10 6.3-39.6 4-37.6 5.2-70.3 -6-161.9 -13.2-251.9 -4.1-125.9 -1.1-18 -4.8-71.9 -5.5-62.7 -2.9-24.1 -3-18 -2.9-11.5 -1.5-2.2 -1.5 0.5 -1.5 3.2 -2.9 12.4 -4.4 27.4 -2.6 21 -4.9 54 -5.7 89.9 2.8 108 3.3 89.9 3.7 71.9 9.3 153.7 8.1 116.2 6.4 71.9 4.6 42.8zM1197.9 1007.5l2.6 1.8 3 0.3 2.9-1.6 3-3.7 14.7-31 13.3-31.3 16.2-34.5 13.3-22.6 4.5-5.3 5.9-4.7 2.9-0.9 1.5 0.2 2.9 2.1 4.5 6.4 2.9 6.1 11.8 31.8 5.9 29.5 3 11.7 2.9 7.4 7.4 14.4 2.9 4.2 1.5 0.9 1.5-0.2 2.9-3 7.4-15.7 5.9-18.9 5.9-27.1 3.7-24.3 4.4-35.9 8.2-79.9 6.5-82 6.7-108 -5.8-539.6 -200.7 0 -20.9 539.6 10.5 124.1 12.8 163.7 5 51.5 2.9 24 4.4 26.1 4.5 15.7 2.9 6.3zM284.1 935.5l4.6 6.8 3 0.8 1.5-0.6 2.9-3.2 4.4-7.1 4.5-8.7 4.4-11 11.8-34.7 5.9-15.3 13.3-26.4 2.9-4.1 1.5-0.8 1.5 0.5 1.5 1.6 2.9 6.9 7.4 23.4 1.5 2.4 2.9 1.8 3-0.7 5.9-3.5 7.3-1.9 3-2 10.3-11.5 13.3-17.9 5.9-4.9 4.4-1.3 3 1.1 8.8 8.9 3 1.4 1.5-0.3 1.4-1.3 1.5-2.3 4.4-12.4 5.9-23.5 10.5-58.1 4.3-29.9 7.4-68.9 5.5-45.1 -12.3-125.9 -3.6-29.3 -10.3-61.6 -5.9-24.3 -4.4-12.9 -3-4.3 -1.4-0.4 -1.5 0.5 -3 3.2 -8.8 14.7 -3 2.7 -2.9 1 -4.5 0 -4.4-1.3 -17.7-10.2 -2.9-0.4 -4.5 0.7 -7.3 3.1 -7.4 4.7 -10.3 12.9 -1.5 1 -1.5 0 -1.5-1.1 -1.4-2.5 -3-9.3 -4.4-22.7 -10.4-66 -17.7-128.6 -7.3-41.9 -9.2-41.4 -54.3 0 0 647.7 3 8.2 1.5 8 8.9 91.6 2.9 23 4.4 28.3 4.4 21.4 5.9 22.9 4.4 13.4zM952.6 305.9l3 8.2 1.5 0.9 1.5-1.3 1.4-3.4 3-11.1 10.3-56.9 3-13.2 4.4-15.4 4.4-11.3 5.9-9.1 13.3-11.7 8.9-11.6 10.3-16.6 5.9-13.9 2.9-11.5 3-20.6 4.1-53.3 -108.1 0 5.1 105.7 4.5 61.3 5.2 48.9 3.6 22.7z"/>
<path fill="#00efff" d="M682.5 1673l110.8 0 7.3-107.9 6.9-125.9 11.4-305.8 -10-215.9 -5.4-89.9 -5.7-67.1 -8-76.8 -6-54 -5.1-36 -9.2-161.9 -3.6-53.9 -5-52.7 -5.9-40 -5.9-23.1 -3-5.7 -1.5-0.9 -1.4 0.2 -3 3.2 -2.9 5.5 -8.9 24 -11.8 49.4 -11.8 42.3 -4.4 7.8 -3 2 -2.9-0.6 -4.5-5 -4.4-8.6 -2.9-8.2 -4.5-16.5 -8.8-41 -5.9-44.5 -3-16.2 -1.4-3.5 -1.5-1.6 -4.4-2.5 -4.5-4.5 -1.4 0.6 -1.5 3.8 -1.5 8.1 -7.4 71.2 -4.7 39 -21.8 134.9 -7.4 62.3 -3 17.7 -1.4 2.7 -1.5-2.1 -1.5-6.2 -4.4-27.2 -3-12.5 -7.3-15.7 -3-2.5 -1.5 0.3 -1.4 1.7 -3 6.6 -5.9 17.7 -13.3 35 -6.4 21.1 6.3 90 3.3 89.9 2.6 143.9 1.8 215.9 12.9 197.8 4.6 54 3 27 4.4 25.7 11.8 48.5 4.4 12.1 1.5 1.7 1.5 0.4 1.4-0.9 1.5-2 3-6.9 7.4-26.1 11.8-58 4.4-28.8 2.8-28.7 2.6-36 10.8-179.8 2.6-90 3.3-59.1 3-29.1 2.9-18.3 1.5-6.2 2.9-8.2 3-4.3 1.5-0.8 1.4 0.3 1.5 1.6 3 7.5 2.9 12.2 3 17.4 2.9 26.2 3 38.4 2.9 59.3 1.8 53.1 -3.7 107.9 -3 125.9zM1487 1673l62.6 0 2.9-54 3.6-37.7 3-17.3 7.3-29.2 11.8-56.6 4.5-29 5-46 5-72 9.6-197.8 -9.5-179.9 -2.8-39.3 -2.9-30.5 -4.4-32.7 -4.5-22.5 -2.9-10.2 -5.9-16.2 -3-6 -1.4-1.4 -1.5 0 -1.5 1.3 -2.9 5.2 -5.9 12.9 -4.5 12.9 -5.9 26.5 -4.4 35 -3.8 65 -6.5 179.9 -2.4 35.9 -3.7 36 -8.7 52.6 -10 73.3 -3.3 30.9 -3.2 41.1 -5.2 107.9zM1691.4 1241.3l1.9 7.7 1.5 3.1 1.5 0.3 1.4-2.2 3-10.9 4.4-28.3 4.4-39.4 3.1-38.2 -4.5-108.8 -14.5-269 -2.3-71.9 -1.6-90 -4.9-71.9 -4.8-53.6 -4.4-32.2 -2.9-12.7 -1.5-2.5 -1.5 0.6 -2.9 9.6 -5.9 38.1 -5.2 52.7 -4.9 71.9 2.7 89 2.9 72.9 10.4 183.9 2.9 42.1 6 61.8 2.1 36 1.8 54 1.4 18 4.9 51zM1199.1 989.5l2.9 1.8 3-0.2 1.4-0.9 3-3.8 13.3-29.3 16.2-41 16.2-36.9 11.8-21.7 4.5-5.8 5.9-5.3 2.9-1 1.5 0.3 2.9 2.3 4.5 7.1 2.9 6.7 11.8 35.3 5.9 32.8 3 13 2.9 8.2 7.4 16 2.9 4.6 1.5 1 1.5-0.1 2.9-3.3 7.4-17.6 5.9-21 4.5-21.6 6.3-45.6 8.8-89.9 6.9-89.9 5.5-90 -5-539.6 -194.1 0 -4.7 107.9 -14.7 431.7 18 251.9 4.8 55.6 3.8 34.3 3.5 23.1 4.5 18.6 2.9 7.8zM286.3 917.5l2.4 3.1 1.5 0.8 3-1 4.4-6.3 5.9-12.3 7.4-21 16.2-56.2 13.3-36.8 2.9-6.8 1.5-2 1.5-0.7 1.5 0.7 1.4 2.3 8.9 28.3 2.9 5.8 1.5 1.5 3 1.3 5.9 0.2 7.3 1.3 4.5-1.9 8.8-8.7 13.3-17.1 2.9-2.9 4.5-2.7 2.9-0.5 3 1.3 7.3 8.9 3 2.7 1.5 0.5 1.5-0.4 2.9-4 4.4-13.9 4.5-19.4 8.8-51.8 7.4-55 5.7-61.1 -5.7-70.3 -5.9-50.3 -8.9-57.4 -4.4-20.4 -4.4-15.5 -3-5.2 -1.4-0.8 -1.5 0.4 -3 3.2 -8.8 15.4 -3 2.7 -2.9 0.8 -4.5-0.4 -4.4-1.8 -16.2-10.2 -3-0.7 -4.4 0.9 -7.4 4.7 -8.8 8.5 -3 4.5 -5.9 11.6 -2.9 4.2 -1.5 0.8 -1.5-0.4 -1.4-1.9 -3-8.8 -2.9-14.5 -8.9-56.5 -18-138.3 -7.1-47.3 -8.8-46.7 -12.1-49.9 -45.5 0 0 601.2 3 9 1.5 8.8 8.9 100.5 2.9 26.4 4.4 31.2 5.9 30.6 5.9 23.7 5.9 17.6zM952.2 252l1.9 7 1.5 3 1.5 0.7 1.5-1.9 1.4-4.1 3-13.1 10.3-65.6 3-14.9 4.4-17.5 4.4-13.2 5.9-11.5 14.8-18 14.7-22.6 5.9-12.5 4.2-13.7 -95.9 0 3.2 62.2 4.4 61.6 4.5 42z"/>
<path fill="#00fffa" d="M685.8 1673l104.3 0 10.1-161.9 7.1-143.9 7.9-233.8 -5.9-143.9 -4.2-82 -4.4-65.7 -5.9-68.2 -11.8-120.1 -7.9-59.8 -7.4-143.9 -5.4-72.8 -4.4-40.7 -4.4-27.5 -4.4-18.2 -3-6.5 -1.5-1.1 -1.4 0.3 -1.5 1.3 -3 5 -8.8 24.9 -4.4 17.4 -19.2 92.9 -4.5 14.9 -4.4 8.8 -2.9 3.2 -4.5 1.4 -4.4-1.5 -2.9-2.5 -12-17.3 -2.8-5.6 -4.4-12.5 -1.5-2.6 -1.5-0.7 -2.9 3.5 -10.3 19.1 -3 10.3 -5.9 31.5 -4.4 20.1 -14.8 54.5 -9.1 44.3 -7.1 18.9 -3 6.3 -1.4 1.5 -1.5 0 -1.5-1.6 -1.5-3.3 -10.3-38 -2.9-7.5 -3-3.7 -1.5 0.1 -2.9 4.4 -7.6 22.9 -1.2 143.9 -0.6 395.8 9.4 161.9 4.1 53.9 3.3 33.8 4.4 28.4 11.8 53 4.4 13.3 1.5 1.8 1.5 0.3 1.4-1 1.5-2.4 3-8 8.8-37.9 11.8-71.4 4.5-41 3.8-58.8 6.2-125.9 1.8-185.1 2.9-101.9 1.5-23.4 2.9-25.2 1.5-6.8 3-8.1 1.4-2.2 3-2.1 2.9 0.6 3 2.3 2.9 4.4 3 7.3 5.9 24.2 4.4 29.7 4.4 51 2.8 55.4 2.3 71.9 2.4 108 -4.3 125.9 -2.8 107.9zM1488.9 1673l58.5 0 3.1-72 4.1-49.1 3-17.5 8.8-30.9 10.4-51 5.9-40.4 4.4-43.6 4.8-73.2 7-161.9 -7.4-155.1 -2.9-41 -3-29.8 -3.3-26 -4.1-22.8 -2.9-11.4 -5.9-18.2 -3-6.7 -1.4-1.5 -1.5 0.1 -3 4.2 -5.9 14.7 -4.4 13.9 -5.9 28.6 -4.4 33.9 -2.7 37.2 -1.7 36 -5.3 161.9 -2.1 42.2 -4.5 44.2 -2.9 16.9 -4.4 20 -5.6 38.5 -6.6 54 -4.1 42.3 -2.9 42 -3 59.6zM1692.6 1205.3l2.2 6.2 1.5 0.5 1.4-2.4 1.5-4.8 3-16 6.5-55.4 -8-146.6 -4.4-65.8 -4.7-57.5 -2-35.9 -2-90 -1-143.9 -3.8-53.9 -4.2-45.1 -4.5-29.9 -1.4-5.7 -1.5-2.7 -1.5 0.7 -2.9 10.4 -4.5 29.6 -4.4 42.4 -4 54.2 4.9 125.9 9.4 164 3 31.2 5.9 30 2.9 30.2 2.5 68.4 1.2 90 5.2 49.1zM1200.1 971.5l1.9 1.4 3 0.3 2.9-2.4 3-5 12.6-30.3 15.4-42.1 16.2-39.7 8.9-18.3 4.4-7.7 5.9-7.2 4.4-3.3 3-0.1 2.9 2.6 4.5 7.7 2.9 7.5 11.8 38.8 5.9 36 3 14.3 2.9 9 7.4 17.6 2.9 5.1 1.5 1.1 1.5-0.2 2.9-3.6 5.9-14.8 4.5-15.1 5.1-23.6 3.7-22.6 3-23.1 7.7-80.2 6.9-89.9 5.5-90 -4.9-539.6 -187.8 0 -6.9 161.9 -11.5 377.7 13.8 215.9 6 76 3.5 31.9 3.9 25 4.4 18.3 3 7.3zM289.9 899.5l1.8 0 1.5-1.1 2.9-4.3 5.9-13.2 4.4-12.6 6.4-22.7 15.8-64.4 13.3-46.8 2.9-7.6 1.5-1.9 1.5-0.1 1.4 1.5 1.5 3.1 7.4 26.2 4.4 10.5 3 3.2 11.8 7.8 4.4 0.6 5.9-3.4 7.4-7.6 10.3-13 4.4-4 3-1.6 2.9-0.4 3 1.6 7.3 10 3 3.1 1.5 0.6 1.5-0.3 1.4-1.6 3-7 2.9-11.4 7.4-38.4 8.9-63.1 5.1-47.5 -5.1-54 -8.9-68.9 -7.4-39.7 -2.9-11.1 -3-6.3 -1.4-1 -1.5 0.2 -1.5 1.3 -10.3 18 -1.5 1.7 -3 1.5 -4.4-0.3 -4.4-1.8 -13.3-9.4 -4.4-2.3 -3-0.5 -4.4 1.6 -7.4 6.6 -8.8 11.7 -11.8 26.6 -1.5 1.6 -1.5 0.3 -1.4-1.4 -1.5-3.2 -4.4-19.6 -10.4-68.7 -17.5-142.6 -6.1-43.7 -7.4-42.8 -8.8-40.2 -15.4-53.2 -34.8 0 0 554.6 3 9.8 1.5 9.7 10.3 125.1 2.9 26.7 4.5 30.9 5.9 31.2 5.9 24.2 8.8 25.4 3 5.6zM951.9 198l2.2 8.9 1.5 3 1.5 0.4 1.5-2.4 1.4-4.9 3-15.1 10.3-74.1 3-16.8 5.9-25 6.2-17.9 -50.2 0 2.7 44.1 3.6 45.8 3.7 32.1z"/>
<path fill="#00ffe4" d="M688.3 1673l99.6 0 2.5-55.2 9.4-160.7 5.9-125.9 6.5-197.8 -4.1-108 -4.6-89.9 -6.2-89.9 -12.6-143.9 -3.6-36 -8.9-72 -6.2-125.9 -5.4-71.9 -3.9-36 -3.2-20.5 -4.4-20.4 -3-7.2 -1.5-1.2 -1.4 0.3 -1.5 1.4 -3 5.5 -4.4 12.5 -5.9 20.8 -4.4 21.3 -17.7 101.4 -5.9 24.6 -4.5 12.4 -4.4 8.8 -4.4 6.2 -11.8 13.3 -8.9 15.7 -4.4 11.5 -6.7 27.4 6.7 27.8 14.8 48 5.9 25.4 2.9 16.8 3.3 25.9 3 36 2.6 48.6 2.1 59.3 2.5 108 2.2 143.9 -5 143.9 -3.3 114.8 -2.4 119zM1490.7 1673l54.4 0 3.6-96.1 1.9-29.8 2.6-26.8 1.4-10.1 3-13 5.9-14.7 2.9-10.4 8.9-44.9 5.9-39.3 4.4-43.3 4.7-67.3 4.8-108 1.3-35.9 -1.4-36 -5-99.6 -2.9-38.8 -3-29.3 -4-30.2 -3.3-17.4 -7.4-26 -3-7.3 -1.4-1.7 -1.5 0.2 -3 4.8 -5.9 17.1 -4.4 16.3 -5.7 32 -4.1 36 -2 26.3 -2.2 45.6 -4.5 161.9 -2.2 48.4 -2 23.6 -2.5 18 -2.8 13.3 -4.5 13.1 -2.9 14.7 -6.2 48.8 -5.7 54 -4.1 53.9 -3 54zM603 1458.8l1.5 0.3 1.4-1.3 1.5-2.7 3-9.2 2.9-12.6 7.4-40.1 10.3-73.3 3-28.9 2.9-42.4 5.3-115.2 -1-323.8 -0.8-72 -1.5-53.9 -2-27.3 -2.9-17 -3-6.9 -2.2-2.8 -5.1-3.4 -4.5-0.9 -5.9 1.9 -4.4 3.7 -3 5.5 -5.9 14.2 -2.9 3.8 -1.5 0 -1.5-1.2 -7.3-14.6 -4.5-6.2 -1.4-0.6 -1.5 1 -1.5 3.2 -2.1 11.6 -2.3 26.1 -2 45.8 -1.4 54 -1.9 143.9 -1.3 215.9 6.6 125.9 3.8 53.9 3.6 40.7 4.5 31.3 11.7 57.3 2.9 10.9zM1694.8 1171l1.5 0.5 1.4-2.5 1.5-5.2 4.7-30.4 -6.2-89.8 -2.9-21.5 -1.5-1.5 -1.5 7.2 -1.4 20.4 -2.2 85.2 3.6 27.1zM1200.8 953.5l2.7 1.7 2.9-0.6 4.5-6.7 13.2-33.6 14.8-43.6 16.2-42.5 8.9-19.8 4.4-8.4 5.9-7.8 4.4-3.6 3 0 2.9 2.8 4.5 8.4 2.9 8.1 11.8 42.3 5.9 39.3 3 15.6 2.9 9.8 7.4 19.2 2.9 5.6 1.5 1.1 1.5-0.1 2.9-4 4.5-11.6 5.9-21 4.4-21.7 5.9-40.8 4.9-50 7.1-89.9 6.9-108 -3.4-359.7 -2.9-179.9 -181.4 0 -8.2 215.9 -9 323.7 11.5 197.9 6.3 80.1 3.1 27.8 4.3 27.7 4.4 17.7 3 6.4zM282.1 863.5l5.2 12 2.9 2.5 1.5-0.3 2.9-3.4 4.5-9.8 4.4-12.2 4.4-15.3 5.9-24.9 11.8-56.9 16.3-70.5 2.9-10.2 1.5-2.9 1.5-1.1 1.4 0.9 1.5 2.7 8.9 32.9 4.4 11.1 10.3 13.4 4.4 4.1 4.5 1.1 4.4-2 5.9-5.2 13.3-15.7 4.4-3.3 2.9-1 3 0.6 1.5 1.2 7.3 11.3 3 3.5 1.5 0.7 1.5-0.4 1.4-1.7 1.5-3.1 3-10.3 5.9-30.6 4.4-29.1 7.2-57.9 -7.2-64.5 -4.4-31.5 -4.5-24.9 -2.9-12.6 -3-7.3 -1.4-1.3 -1.5 0.1 -3 3.2 -8.8 16.7 -1.5 1.7 -3 1.5 -2.9-0.3 -4.4-1.9 -13.3-10.1 -4.4-2.6 -4.5-0.8 -4.4 2.1 -7.4 8.6 -8.8 14.9 -3 7 -8.8 25.9 -1.5 2.4 -1.5 1 -1.4-0.9 -1.5-2.8 -4.4-19.6 -10.4-70.8 -7.4-59.1 -11.8-104.7 -5.9-43.4 -5.9-35.6 -5.9-29.7 -5.9-22.7 -19.1-48.5 -3-5.4 -1.5-1 -1.4 0.3 -1.5 1.3 -3 4.9 -2.4 6.8 -2 8.8 -2.9 27.2 -1.5 31.3 -2.2 130.5 -1.3 305.8 7.8 108 6 59 4.4 30.7 5.9 31.8 4.5 19zM1670.6 827.6l2.1 8.9 1.4-0.2 2.5-8.7 2-13.5 2.5-40.5 1.6-71.9 0.9-108 -3.6-45.5 -2.9-27.3 -3-19.9 -1.4-6.2 -1.5-2.9 -1.5 0.8 -1.5 4.2 -2.9 16.5 -4.4 36.4 -3.9 43.9 3.2 72 5.1 94.3 2.9 45.1zM951.7 144l2.4 10.7 1.5 3.1 1.5 0.2 1.5-2.9 1.4-5.7 3-17.2 9.7-78.1 -30.7 0 4.8 55.8z"/>
<path fill="#00ffce" d="M690.4 1673l95.6 0 4.4-105.8 8.2-146 5.7-125.9 5.5-161.9 -4.4-108 -4.7-85.6 -4.4-63.4 -13.3-162.8 -13.1-119.9 -4.6-95.4 -5.9-79.8 -3-27.8 -4.4-29.3 -4.4-18.8 -1.5-3.2 -1.5-1.3 -1.4 0.3 -1.5 1.6 -3 6 -4.5 13.9 -5.8 22.6 -5.7 31.4 -19.4 125.8 -7.4 31.6 -6.9 22.4 2.6 18 3.2 36 2.6 49.2 2 58.7 3 143.9 2.4 233.9 -10 305.8zM1492.6 1673l50.3 0 3.1-107.9 2.7-48.4 3-31.2 1.5-10.4 2.9-11.6 1.5-3.6 5.9-9.5 4.4-16.3 10.3-58.4 5.9-53.6 4.7-62.8 4.2-89.4 1.3-36.5 -1.4-36 -5-89.9 -3-36 -3.7-33 -3-19.4 -2.9-14 -7.4-26.6 -1.5-3.4 -1.4-1.8 -1.5 0.2 -3 5.5 -8.8 31.1 -5.9 34.2 -4.4 39 -3 42.1 -2.2 54 -1.6 54 -1.8 107.9 -1.8 44.2 -1.5 17.7 -2.9 18 -3 9.9 -5.9 8.8 -2.9 13.5 -8.9 77.8 -4.4 51.7 -3 46.2 -2.9 59.8zM597.2 1421.2l4.3 14.8 1.5 2.1 1.5 0.2 1.4-1.5 3-7.6 7.4-35.9 4.4-29.2 8.9-70.2 2.9-28.5 3-39.7 4.3-92.3 -2.2-233.9 -1.5-71.9 -2.2-54 -2.9-36 -2.4-18 -3.5-19.2 -2.9-12.8 -3-9.6 -4.4-8.5 -2.9-3.2 -1.5-0.8 -1.5 0 -3 3.1 -7.3 17.2 -3 4.4 -1.5 0.8 -1.4-0.1 -5.9-2.4 -1.5 0.3 -1.5 1.2 -1.5 2.9 -2 8.8 -2.4 19 -2.9 48.9 -3.4 129.9 -2.5 233.9 1.7 35.9 5 90 5.1 65.4 4.4 33.5zM1201.4 935.5l2.1 1.6 1.5 0.3 1.4-0.7 1.5-1.4 3-5.4 13.2-35.3 14.8-46.5 16.2-45.4 8.9-21.3 4.4-9 5.9-8.4 4.4-3.9 3-0.1 2.9 3.1 4.5 9.1 2.9 8.8 11.8 45.8 5.9 42.5 3 16.9 2.9 10.6 7.4 20.8 2.9 6 1.5 1.3 1.5-0.2 1.5-1.6 4.4-10.6 5.9-20.9 4.4-21.5 5.9-40 4.5-44 6.5-84.4 6.9-108 -2.2-215.8 -2.4-163.8 -2.8-106 -3-54 -173 0 -9.2 269.8 -7 269.8 8.8 161.9 6.4 90 3.8 35.9 3.4 23.3 4.4 20 3 7.5zM283.6 845.6l3.7 8.2 1.4 1.8 1.5 0.7 1.5-0.4 2.9-3.9 2.8-6.4 7.6-23.3 8.8-39.5 8.9-49.1 19.2-98.7 4.4-16.8 1.5-2 1.4 0.2 1.5 2.3 3 9.4 7.3 31.4 3 8.8 8.8 17 5.9 8.3 4.5 2.5 2.9-0.3 3-1.6 5.9-5.2 11.8-13.5 4.4-3.3 2.9-1 3 0.8 1.5 1.4 8.8 14.7 3 2.4 1.5-0.4 1.4-1.8 1.5-3.4 3-11.2 7.3-43.2 4.7-36.8 -4.7-40.7 -5.9-38.4 -4.4-19.3 -1.5-3.3 -1.4-1.6 -1.5 0 -3 3.3 -8.8 17.4 -1.5 1.7 -3 1.3 -2.9-0.5 -4.4-2.3 -13.3-11.1 -4.4-2.6 -4.5-0.6 -4.4 2.8 -2.9 3.5 -4.5 7 -8.8 18.1 -3 8.3 -7.3 26.7 -3 7.4 -1.5 1.7 -1.4-0.3 -1.5-2.5 -1.5-4.7 -2.9-14.9 -10.4-72.9 -7.4-61.1 -13.2-123.4 -5.9-44.4 -5.9-36 -5.9-29.7 -3-11.1 -2.9-8.2 -3-5.8 -4.4-5.9 -7.4-7.4 -2.9-0.9 -1.5 0.8 -1.5 2.3 -1.5 3.9 -2.5 11.7 -1.9 12.4 -2.9 30 -2.7 47.6 -1.8 54.3 -1.4 71.6 -2 215.8 6.2 90 6.1 58.5 4.6 31.4 5.7 31.3 4.4 18.9zM1669.4 737.6l1.8 11 1.5 0.1 1.4-7.3 1.5-14.5 1.6-25.2 2.1-54 1.2-54 -4.9-46.8 -2.9-16.3 -1.5-3.1 -1.5 0.8 -2.9 12.4 -6.3 53 4.8 88.9zM951.4 90.1l2.7 12.5 1.5 3.1 1.5-0.1 1.5-3.4 1.4-6.5 5.8-41.6 -19.1 0z"/>
<path fill="#00ffb8" d="M692.5 1673l91.8 0 6.1-156.4 7.4-137.7 5.3-119.6 4.3-125.9 -3.8-90 -5-89.9 -16.1-215.9 -14.7-143.9 -4-78.7 -4.7-65.2 -2.7-26.5 -4.4-32.1 -4.4-20.6 -1.5-3.5 -1.5-1.4 -1.4 0.3 -1.5 1.7 -4.4 10.9 -5.9 22.1 -4.5 20.8 -12 82.3 -11.9 89.9 2.9 197.9 2.1 341.8 -4.1 107.9 -6 197.9 -3.4 131.4zM1494.6 1673l45.9 0 1.4-89.9 1.6-54 2.3-40.9 2.8-31.1 3.1-20.1 2.9-10.2 3-4.2 4.4-2.2 1.5-2 2.9-8.9 10.4-57.6 5.9-51.2 4.4-57.4 2.9-52.7 2.4-57.2 -0.9-21.7 -4.4-77.5 -5.9-63.6 -3-21.3 -2.9-15.3 -7.4-29 -1.5-3.6 -1.4-1.9 -1.5 0.3 -3 6.2 -5.9 21.6 -2.9 13.3 -4.4 27.1 -4.5 39.5 -3.9 53.9 -2.8 72 -1.4 143.9 -2.2 71.3 -1.5 15.4 -1.5 6.6 -1.4 3.3 -3 3.3 -1.5 0.6 -1.4-0.5 -3-2.3 -1.5 1.1 -1.4 4.5 -3 18.8 -7.4 72 -4.4 56.7 -4 72.9zM598.1 1403.2l3.4 12 1.5 2.1 1.5 0.2 1.4-1.7 1.5-3.4 4.5-18.8 5.9-35.9 3.3-26.5 8.1-71.9 3.3-35.1 3-44.7 2.1-46.1 -3-197.9 -2.1-63.3 -2.5-44.6 -4.9-54 -5.9-43 -2.9-13.1 -3-9.4 -2.9-6.5 -1.5-1.6 -1.5-0.3 -1.5 1.1 -2.9 5.3 -5.9 16.4 -3 6.2 -5.9 7.3 -2.9 5.3 -3 11.9 -1.4 11.3 -3 40.7 -2.3 58.3 -3.3 161.9 -1.3 108 6.9 124 3 38.2 2.9 26.4zM1201.8 917.5l1.7 1.5 1.5 0.4 1.4-0.5 1.5-1.4 3-5.5 13.2-37.1 14.8-49.5 16.2-48.3 11.8-29.4 4.5-7.9 5.9-7.3 2.9-1.4 1.5 0.4 2.9 3.3 4.5 9.8 2.9 9.4 11.8 49.4 5.9 45.7 3 18.2 2.9 11.4 7.4 22.4 2.9 6.5 1.5 1.3 1.5-0.1 2.9-4.7 7.4-24.6 5.9-29.7 5.6-40.2 6.4-72 9.4-143.9 -4.1-305.8 -2.5-94 -3.2-67.8 -4.2-44.9 -1.7-9.1 -2.7-8.1 -1.5-1.6 -3-0.7 -13.2 4.4 -4.5 2.9 -10.3 9.9 -4.4 1.5 -3-1.4 -2.9-5.6 -4.5-19.3 -113.7 0 -9.6 305.8 -5.8 233.8 7.4 143.9 6.7 94.5 3.3 31.4 4.1 27.6 4.4 18.5zM285.2 827.6l3.5 6.3 1.5 0.7 1.5-0.5 1.5-1.7 2.9-6.2 3-8.5 7.2-26.1 7.5-38.1 26.7-159.8 -11.9-90 -16.8-161.8 -9.3-71.9 -6.4-38.3 -5.9-25.3 -4.4-9.4 -3-2.5 -2.9-0.6 -4.4 0.9 -3 2.7 -2.9 5.9 -1.5 4.9 -4.3 25.7 -3.2 36 -2.8 51.9 -2.4 74 -3.1 197.8 5.5 75.6 3.1 32.4 4.2 33.5 8.9 52 5.5 22.4zM376.3 647.7l2.4 3.9 3 3.1 2.9 1.3 3-0.4 5.9-4 14.7-15.7 3-2 2.9-1 3 1 1.5 1.5 7.3 13.7 3 4.3 1.5 0.8 1.5-0.3 1.4-2 1.5-3.7 3-12.1 6.7-42.4 -6.7-46 -3-12.8 -1.5-3.7 -1.4-1.9 -1.5-0.2 -3 3.3 -7.4 15.6 -2.9 4.2 -1.5 0.9 -2.9 0.1 -3-1.3 -4.4-3.2 -11.8-10.9 -4.4-2.6 -3-0.5 -2.9 0.9 -3 2.7 -2.9 4.2 -4.5 8.3 -8.8 21.3 -5.9 21.6 5.9 24.8 5.9 15.5zM1668.2 647.7l1.5 13.1 1.5 4.7 1.5-4.6 1.4-14.4 2.7-52.8 -2.7-20.1 -1.4-7.2 -1.5-3.4 -1.5 0.9 -1.5 5 -3.6 24.8z"/>
<path fill="#00ffa3" d="M694.8 1673l87.6 0 6.5-173.3 8.9-178.6 4.1-97.8 3.3-89.9 -4.5-95.5 -5.1-84.4 -14.1-198.7 -15.7-161.1 -3.5-63.1 -4.4-59.5 -2.9-28.6 -4.5-30.6 -2.9-13.4 -1.5-3.7 -1.5-1.6 -1.4 0.4 -1.5 1.8 -4.4 11.7 -5.9 23.9 -3.8 18.8 -7.7 54 -10.7 89.9 1.8 539.7 -2.5 53.9 -3.2 90zM1496.6 1673l41.6 0 0.7-179.9 1.1-36 1.4-20.5 2.9-22.6 2.4-10.8 3.5-11.3 1.5-3.4 2.9-3.4 3 0.3 2.9 1.9 1.5 0.2 1.5-1.2 2.9-8.1 10.4-59.9 4.6-41 6.5-90 2.6-53.9 -0.5-10.2 -4.4-71.9 -5.9-61.2 -2.9-19.5 -4.5-21.1 -4.4-17.9 -1.5-3.9 -1.4-2 -1.5 0.4 -1.5 2.5 -2.9 9.7 -5.9 25.6 -3 16.6 -5.9 48.5 -4.4 57.7 -2.1 46.7 -0.5 233.8 -0.6 36 -1.2 29.9 -1.5 10.6 -1.5 1.6 -13.3-32.4 -1.5-0.5 -1.4 3.4 -3 19 -7.4 76.7 -5 71.6zM598.8 1385.2l2.7 9.2 1.5 2.2 1.5 0.2 1.4-1.9 1.5-3.8 3-12.5 4.8-29.4 4-30.2 11.5-113.7 4.8-71.9 -1.5-85.2 -2.1-76.7 -2.3-54.7 -3.3-53.3 -4.3-53.9 -4.2-37.3 -2.9-16.7 -3-13 -3-8.1 -1.5-1.6 -1.5 0 -2.9 4.4 -8.9 29.2 -7.3 21.5 -3 13.9 -1.5 11.7 -2.9 41.8 -2.4 62.1 -2.2 90 -1.7 107.9 -0.2 18 2.1 41.2 4 66.7 2.9 36 3.4 27.8zM1202.1 899.5l2.9 2 1.4-0.4 3-3.8 2.9-7 11.8-35 14.8-52.6 16.2-51.1 11.8-31.3 4.5-8.5 5.9-7.8 2.9-1.4 1.5 0.4 2.9 3.5 4.5 10.5 2.9 10.1 11.8 52.8 5.9 49 3 19.5 2.9 12.2 7.4 24.1 2.9 6.9 1.5 1.4 1.5-0.2 2.9-5 7.4-26.4 6.2-33.8 5.6-44.3 5.4-63.7 8-125.9 -2.5-179.8 -2.7-126 -3.2-89.9 -3.5-53.7 -2.9-24.5 -3-12.5 -3-6.2 -2.9-3.5 -3-2.1 -4.4-1.9 -4.4 0 -3 2.2 -14.7 22.2 -4.4 8.2 -1.5 1.4 -1.5-0.5 -2.9-6.1 -4.5-16.8 -2.9-19.7 -2.8-30.4 -101.9 0 -10.2 341.8 -4.8 197.8 7.3 143.9 6.2 84 2.9 27.3 4.4 29 3 12.2 1.5 4zM286.9 809.6l1.8 2.6 1.5 0.7 1.5-0.7 2.9-4.8 5.9-18.3 5.9-24.1 7.4-40.8 19.8-130.5 -9.5-80.9 -13.2-138 -7.4-61 -5.9-38.3 -4.4-23.4 -4.5-14.4 -1.4-2.4 -3-1.8 -2.9 1.3 -3 3.2 -2.9 4.9 -3 8 -4.4 21.5 -3.7 33.5 -3.6 54 -2.2 54 -2.3 84 -1.7 95.8 6.1 75.3 7.4 58.9 4.4 26.9 4.4 21.6 5.9 22.3zM381.7 613.7l2.9 2.1 1.5 0.3 3-0.6 5.9-4.2 13.2-13.7 3-2 2.9-0.9 3 1.1 1.5 1.7 7.3 14.9 3 4.6 1.5 1 1.5-0.4 1.4-2.1 1.5-3.9 3.8-17.9 -3.8-19.2 -1.5-4.2 -1.4-2.2 -1.5-0.3 -1.5 1.2 -3 5 -7.3 15.9 -1.5 1.7 -3 1.2 -2.9-1 -3-2 -11.8-11.7 -4.4-3.7 -4.4-1.9 -3 0.4 -1.4 0.8 -3 3.2 -2.9 4.8 -5.4 12 3.9 10z"/>
<path fill="#00ff8d" d="M697.4 1673l82.9 0 2.7-57 5.9-165.9 8.2-172.8 4.5-108 1.3-35.9 -3.5-72 -17.9-278.1 -17.8-189.6 -3.2-53.9 -4.3-54 -5.7-44.8 -2.9-14.5 -1.5-4 -1.5-1.7 -1.4 0.3 -1.5 2 -3.3 8.7 -4.6 18 -5.4 26.8 -5.9 41.2 -8.7 75.9 0 539.7 -3.6 71.9 -3.2 90zM1498.8 1673l37 0 -1.6-89.9 -1.4-36 -1.8-26.1 -1.5-15.4 -2.9-20.4 -5.9-28.5 -1.5-5.8 -1.5-2.3 -1.4 2.5 -3 19.1 -5.5 58.9 -4.8 64.7zM599.6 1367.2l1.9 6.4 1.5 2.3 1.5 0.1 1.4-2.1 1.5-4.2 3-13.5 7.4-52 10.3-106.3 4.9-64.5 -2-78.8 -2.4-65.1 -2.6-54 -4.5-72 -3.7-42.3 -4-29.6 -3.5-18 -2.9-7.6 -1.5-1 -1.4 0.9 -1.5 2.5 -3 9.4 -11.8 52.8 -2.9 15.8 -3 27.6 -2.4 43.5 -1.9 54 -3.3 161.9 3.9 71.9 3.7 48.8 3 24.4 11.8 76.1zM1562 1354.6l1.5-0.3 1.5-2.6 2.9-11.7 8.9-55.2 2.9-25.1 3-33.3 5.8-93 -4.9-72 -5.4-51.7 -2.9-17.9 -5.9-27.8 -3-10 -1.4-2.1 -1.5 0.4 -1.5 2.8 -2.9 10.6 -5.1 23.8 -3.8 22.7 -5.9 53.4 -4.6 67.8 1.6 125.9 1.4 36 1.4 17.9 1.7 12.7 2.9 10.1 5.9 7.4zM1202.4 881.5l2.6 2.1 1.4-0.3 3-3.8 2.9-7.3 11.8-36.6 14.8-55.5 16.2-54 11.8-33.2 4.5-9 5.9-8.3 2.9-1.6 1.5 0.4 2.9 3.7 4.5 11.3 2.9 10.7 11.8 56.4 5.9 52.2 3 20.8 2.9 13 7.4 25.7 2.9 7.3 1.5 1.6 1.5-0.3 2.9-5.3 7.4-28.1 5.9-34 5.9-49.5 4.7-58.2 6.7-108 -2.2-143.9 -2.9-125.9 -3.3-89.9 -3.7-54 -3.7-27.7 -4.4-16 -3-6.3 -4.4-6.3 -3-2.8 -2.9-0.7 -1.5 0.8 -2.9 3.9 -11.8 26.3 -3 10.1 -4.4 20.5 -1.5 4.1 -1.5 1.6 -1.4 0.1 -4.5-2.3 -1.4-1.4 -1.5-2.8 -1.5-5.3 -2.2-13.8 -1.9-18 -2.6-35.9 -2.7-54 -92.1 0 -11 377.7 -3.9 161.9 6.3 125.9 3.5 54 3.1 36 3.2 28 2.9 19.5 3 13.5 2.9 7.9zM282.1 773.6l5.2 14.9 1.4 2 1.5 0.7 1.5-0.8 2.9-5.3 4.5-14.3 4.4-17.5 4.4-22.1 5.9-36.3 13.8-101.2 -6.4-63.5 -8.9-99.5 -8.8-79.3 -5.9-40.3 -4.4-24.3 -3-10.6 -1.5-3.1 -1.4-1.8 -1.5-0.5 -3 2.3 -2.9 5.4 -3 7.6 -2.9 10.8 -4.4 26.8 -3 28.3 -2.9 41.8 -2.7 56 -4 143.9 5.2 59.5 5.9 47.9 7.4 44.6z"/>
<path fill="#00ff77" d="M699.9 1673l78.2 0 4.4-89.9 6.4-182.6 11.7-267.1 -4.8-90 -15.8-251.8 -18.4-197.9 -3.6-53.9 -3-34.3 -5.9-44.3 -3-11 -1.5-1.9 -1.4 0.4 -1.5 2.1 -3 8 -4.4 18.3 -4.4 22.4 -5.9 40.2 -6 54 -1.7 539.7 -4.6 89.9 -3.2 89.9zM1501 1673l32.4 0 -2.3-72 -3-46.9 -7.4-57 -1.5-8.2 -1.5-4.1 -1.4 1.6 -1.5 7.3 -4.4 43.1 -5.1 64.2zM600.4 1349.2l2.6 6 1.5 0 1.4-2.3 3-11 4.4-28.3 6.3-54.3 10.7-125.9 -4.5-125.9 -6.6-119.2 -2.9-33.7 -4.4-35.7 -3-15.3 -1.5-4.4 -1.5-2.1 -1.4 0.2 -1.5 2.3 -4.4 17.1 -10.9 64.8 -3.9 32.3 -2.5 39.7 -1.9 50.3 -3 129.6 4.3 71.9 3.1 35 13.1 90.9zM1560.5 1319.1l1.5 2.6 1.5 0.5 1.5-2 2.9-11.6 7.4-46.6 2.7-20.7 4.7-52 3.6-55.9 -3.6-50 -4.5-43.5 -2.9-19.2 -5.9-29.8 -3-10.6 -1.4-2.2 -1.5 0.5 -3 8.1 -4.4 20.8 -4.4 25.7 -5.4 46.2 -4.3 54 2.3 83.6 3 46.2 1.6 14.1 2.8 14.1zM1202.7 863.5l2.3 2.1 1.4-0.1 1.5-1.4 4.4-10 11.8-38.1 14.8-58.6 17.7-61.5 11.8-34 5.9-10.9 4.4-5.1 1.5-0.5 1.5 0.5 2.9 3.9 4.5 11.9 2.9 11.5 11.8 59.8 5.9 55.5 3 22.1 2.9 13.8 7.4 27.3 2.9 7.8 1.5 1.6 1.5-0.2 2.9-5.6 7.4-30 5.9-36.1 5.9-52.7 4.1-52.8 5.4-90 -2.5-143.9 -2.7-107.9 -2.8-71.9 -4.4-60.7 -3-21.6 -4.4-19.6 -5.9-14.7 -3-4.7 -1.4-1.4 -1.5-0.4 -1.5 0.7 -2.9 4.6 -10.4 29.3 -4.4 20.4 -5.9 42.7 -1.5 5.7 -4.4 11.1 -5.9 20.3 -1.5 1.5 -1.4-0.9 -3-9.3 -1.5-9.2 -2.9-32.9 -3.3-68.9 -3.2-107.9 -82.7 0 -5.2 161.2 -10 378.4 5.5 111.6 5.9 81.9 3 27.9 4.4 29.5 3 11.4zM283.3 755.6l4 11.2 1.4 2 1.5 0.7 1.5-0.9 1.5-2.3 2.9-8 5.9-23.1 4.4-21.9 7.4-47.6 8.9-72 -10.8-125.9 -8.4-78.8 -8.9-60.1 -4.4-17.8 -1.5-2.7 -1.4-1.1 -1.5 0.4 -3 4.7 -5.9 19.6 -4.4 25.6 -2.9 26.3 -3 36.7 -2.9 52.4 -4.2 120.7 5.3 54 6.2 47.5 5.9 33.8z"/>
<path fill="#00ff62" d="M702.1 1673l73.9 0 5.5-107.5 7.4-214.7 9.4-217.4 -15.3-269.9 -4.4-62.8 -11.8-132.5 -7.4-74.5 -3-40.4 -2.9-30.5 -4.4-33.1 -3-11.8 -1.5-2 -1.4 0.4 -3 5.8 -2.9 10.7 -4.5 21.2 -5.9 35.5 -5.2 44.2 -3 539.7 -4.9 89.9 -4 107.9 -2.9 108zM1503.4 1673l27.4 0 -1.4-36 -2.8-42.5 -5.9-57 -1.5-10.7 -1.5-5.7 -1.4 0.6 -1.5 7.1 -3 27.7 -4.4 54.7zM601.3 1331.2l1.7 3.3 1.5 0 1.4-2.6 3-11.8 3-19 7.3-65.7 8.3-102 -4.8-125.9 -5.1-90 -3-36 -4.2-35.1 -3-14.1 -1.5-3.1 -1.4-0.4 -1.5 2 -1.5 4.3 -4.4 23.5 -8.9 66.5 -2.9 26.4 -2.7 38 -1.6 35.9 -2.9 108 2.8 45.6 2.9 34 13.3 97.7zM1560.5 1285l1.5 3.7 1.5 1.4 1.5-1.4 2.9-11.4 8.1-54 3.7-33.5 4.2-56.4 -4.2-50.1 -2.9-24.2 -7.4-41.2 -3-11.3 -1.4-2.3 -1.5 0.6 -3 8.7 -7.3 40.1 -4.5 35 -4 44.7 2.2 53.9 2.5 36 3.8 28.9zM1202.8 845.6l2.2 2.1 1.4 0 1.5-1.4 4.4-10.2 11.8-39.8 14.8-61.6 17.7-64.6 11.8-35.8 5.9-11.6 4.4-5.4 1.5-0.5 1.5 0.5 2.9 4.2 4.5 12.6 2.9 12.2 11.8 63.3 5.9 58.7 3 23.4 2.9 14.6 7.4 28.9 2.9 8.2 1.5 1.8 1.5-0.3 2.9-5.9 7.4-31.7 5.9-38.3 5.9-55.9 3.5-47.4 4.3-72 -2.3-125.9 -3-107.9 -3.3-72 -2.1-30.1 -2.5-23.8 -3.4-23.3 -4.5-19 -4.4-12.4 -2.9-4.9 -1.5-0.8 -1.5 0.6 -1.5 2 -2.9 7.6 -7.4 25.8 -2.9 12.6 -3 20.3 -5.9 60.9 -6.6 38.5 -6.7 57.1 -4.4 25.8 -1.5 5.5 -1.4 2.3 -1.5-3 -1.5-9.6 -1.5-17.4 -3-60.7 -3.4-125.9 -2.4-161.9 -75.4 0 -5.8 164.2 -9.8 375.4 5.4 107.3 5.4 72.6 3.5 31.4 2.9 19.5 3 12.5zM284.5 737.6l2.8 7.4 1.4 2.1 1.5 0.7 1.5-1 2.9-6.2 3-10.5 7.4-34.2 7.3-48.2 6.4-54 -7.8-95.6 -8.9-83.3 -5.1-36.9 -3.7-21.7 -3-10.2 -1.5-2.3 -1.4-0.4 -1.5 1.3 -1.5 2.9 -4.4 15.6 -4.4 23.9 -3.3 26.9 -2.6 30.1 -3 45.1 -4.4 104.6 4.4 41.9 5.9 44 5.9 32.8z"/>
<path fill="#00ff4c" d="M703.8 1673l70.2 0 7.5-149.4 7.4-222.4 7.1-167.8 -13.7-251.9 -3.7-54.8 -11.8-137.1 -8.1-77.9 -5.2-58.4 -4.4-35.2 -3-12.5 -1.5-2.2 -1.4 0.4 -1.5 2.4 -4.5 15.6 -7.3 39.3 -4.5 32.6 -2.3 215.9 -2.1 323.8 -5.1 89.9 -4.4 107.9 -3.9 143.9zM1505.9 1673l22.1 0 -2.9-43.9 -4.4-51.2 -3-20.6 -1.4-0.3 -1.5 6.9 -3 28.6zM603 1313.8l1.5-0.1 1.4-2.7 1.5-5.3 4.5-28.4 5.9-54 7.1-89.9 -4.2-109.6 -4.4-77.8 -5.9-63.5 -3-17 -1.5-4.1 -1.4-1.2 -1.5 1.7 -1.5 4.5 -4.4 26.2 -10.6 96.9 -2.7 35.9 -1.5 29.6 -2.5 78.4 2.5 36.4 3 28.9 11.8 90.1 2.9 17zM1560.5 1250.9l1.5 4.9 1.5 2.3 1.5-1 2.9-11.2 5.9-39.3 4.4-35.9 3.2-37.3 -3.2-33 -2.9-21.8 -7.4-40.6 -1.5-5.1 -1.4-2.4 -1.5 0.7 -1.5 3.5 -5.9 30 -4.4 30 -4.1 38.7 4.1 61 2.9 24zM1203 827.6l2 2.2 1.4 0 1.5-1.3 3-6.1 2.9-9.2 10.3-36.6 13.3-58.5 16.2-63.3 13.3-44.2 3-7.5 4.9-9.4 -3.4-77.9 -2.3-101.9 -1.6-143.9 -1.3-215.9 -69.5 0 -6.8 179.9 -9.5 359.7 4.6 90 5.2 71.9 3 27.9 2.9 20.9 3 13.5zM1326.1 827.6l1.3 1.6 1.5-0.2 1.5-2.3 2.9-9.3 5.9-28.2 4.4-28.9 4.5-38.1 2.9-32.5 6.2-96 -4.1-179.8 -2.1-54.7 -2.9-53 -3.2-36.2 -4.2-31.5 -5.9-25.9 -3-8.5 -1.4-2.6 -1.5-1.2 -1.5 0.5 -1.5 2.3 -2.9 8.7 -8.9 37.5 -2.9 19.2 -7.4 93.6 -7.4 66.6 -11.6 165 4.3 12.8 2.9 12.8 11.8 66.8 7.4 75.9 2.9 19.3 8.9 37.4zM285.8 719.6l2.9 5.9 1.5 0.6 1.5-1.1 2.9-6.7 3-11.2 5-23.4 3.8-22.1 8.9-67.9 -7.4-86.8 -5.9-55 -7.4-53.2 -2.9-13.8 -1.5-4 -1.5-1.8 -1.4 0.2 -1.5 2.2 -3 9.4 -4.4 23 -2.9 21.2 -3 29.2 -2.9 39.5 -4.6 89.9 4.6 39 5.9 40.7 5.9 29.5z"/>
<path fill="#00ff36" d="M705.2 1673l67 0 8.9-179.9 7.8-241.5 4.8-118.2 -12-233.9 -4.6-65.3 -10.3-123.2 -14.8-141.3 -4.4-31.2 -1.5-5.3 -1.5-2.2 -1.4 0.4 -1.5 2.5 -3 9.5 -4.4 21.8 -4.7 28.5 -3.5 197.9 -2.9 341.8 -6.2 107.9 -4.4 107.9 -3.9 143.9zM1508.5 1673l16.2 0 -5.5-70.3 -1.5-9.2 -1.4-1.2 -1.5 6.7 -1.5 12.8zM598.7 1277.3l2.8 13 1.5 2.8 1.5-0.1 1.4-3 1.5-5.6 4.5-29.6 5.9-57.6 4.8-63.8 -3.5-90 -4.3-73.5 -2.9-36.6 -3-26.2 -3-13.6 -1.4-1.8 -1.5 1.4 -3 11.9 -5.7 48.5 -9 103.1 -3.6 76.8 3.6 38.8zM1562.2 1223.3l1.3 2.7 1.5-0.4 2.9-11 7.4-51.7 3.2-29.5 -3.2-25.9 -5.9-35.6 -3-12.7 -1.4-2.5 -1.5 0.7 -1.5 3.8 -2.9 14.2 -4.5 27.6 -3.8 30.4 2.4 29.4 2.8 24.5 3.1 21.3zM1203.1 809.6l1.9 2.3 1.4 0.1 1.5-1.2 1.5-2.7 8.8-28.5 7.4-28.9 10.3-48.5 8.9-37.4 8.8-35.3 10-35.8 -0.6-539.6 -64.1 0 -4.6 107.9 -4.1 115.3 -8.4 316.4 4.8 90 5.1 64.2 2.9 26.3 2.8 17.4 3.1 12.2zM1325.3 809.6l2.1 3.7 1.5-0.3 2.9-6.6 5.9-26.9 4.5-27.7 3.9-32.2 3.5-35.2 6-90.7 -4-161.9 -2.3-53.9 -2.7-45.7 -3-34 -4.4-34 -5.9-27.7 -2.9-8 -1.5-1.5 -1.5 0.4 -1.5 2.5 -2.9 10 -8.9 43.3 -2.9 22.9 -7.4 114.8 -7 82.9 -4.6 89.9 11.6 69 5.9 65.2 3 26.1 3.7 19.6 6.6 28.6zM287.3 701.7l1.4 2.1 1.5 0.5 1.5-1.1 2.9-7.2 3-11.9 7.4-38.7 7-51.7 -7-78 -5.9-50.7 -5.9-39.3 -3-9.9 -1.5-1.4 -1.4 0.9 -1.5 3.1 -3 11.8 -5.9 39.5 -4.4 47.9 -4.5 76.1 4.5 35.8 4.4 28.3 5.9 29.1z"/>
<path fill="#00ff21" d="M706.5 1673l64 0 8.1-162.3 3.6-89.5 5.2-175.1 4.1-112.7 -11.5-232.9 -11.8-150.9 -4.4-46.6 -8.8-73.3 -4.5-43.4 -2.9-19.9 -1.5-5.5 -1.5-2.4 -1.4 0.4 -3 7 -5.7 27.8 -1.7 39.9 -2.4 86 -1.9 108 -3.2 305.8 -7.2 124.6 -4.4 106.2 -3.7 128.9zM1511.2 1673l10.5 0 -2.5-32.3 -1.5-10.9 -1.4-2.2 -1.5 6.4 -1.5 13.2zM599.3 1259.3l2.2 10.2 1.5 2.9 1.5-0.2 1.4-3.2 1.5-5.9 4.5-31.5 4.4-44.3 4.3-53.9 -4-90 -4.7-71.9 -3.9-36 -2.1-9.9 -1.4-2.5 -1.5 1.2 -3 12.5 -4 34.7 -8.7 107.9 -3.3 54 12.7 107.9zM1561.5 1187.3l2 6.7 1.5 0.1 1.4-3.8 1.5-7.1 6.9-49.8 -6.9-42.3 -1.5-5.6 -1.4-2.6 -1.5 0.8 -3 10.7 -6 39 4.1 35.9zM1203.2 791.6l1.8 2.3 1.4 0.3 1.5-1.2 1.5-2.7 8.8-29.4 7.4-30.1 14.8-70.6 16-66.5 1.9-233.8 1.3-305.8 -58.4 0 -5.6 125.9 -3.9 104.6 -8.5 309.1 4.1 73.9 5.6 70 4.7 35.4 2.9 12.1zM1324.6 791.6l1.3 3.7 1.5 2 1.5-0.2 1.5-2.6 2.9-10.3 7.4-40.8 4.4-35.1 3-29.3 6.1-85.3 -4-143.9 -2.1-46.8 -3-47.3 -2.9-33.5 -4.5-34.2 -4.4-22.9 -2.9-9.5 -1.5-1.9 -1.5 0.3 -1.5 2.7 -3.3 13.3 -8.5 47.1 -2.7 24.8 -2.5 36 -5.1 101.7 -4.4 60.2 -3.1 53.9 7.5 45.6 5.9 68.4 3 27.4 2.9 17zM283.1 665.7l4.2 14.1 1.4 2.3 1.5 0.5 1.5-1.3 1.5-3 4.4-17.2 5.9-31.6 5.1-35.8 -5.1-54.2 -7.4-61.2 -4.4-23.9 -1.5-3.6 -1.5-1.1 -1.4 1.6 -3 10.1 -5.9 40.6 -3.7 37.8 -3.5 53.9 5.7 40.4z"/>
<path fill="#00ff0b" d="M707.7 1673l61.2 0 9.5-197.9 3.1-77.4 8.1-264.3 -6.4-143.9 -5-90 -12.9-161.3 -11.7-90.5 -6-52.9 -1.5-6.2 -1.5-2.5 -1.4 0.4 -3 7.2 -1.5 16.5 -2.2 37.5 -2.1 54 -4.1 179.8 -3 251.9 -7.4 125.9 -4.8 107.9 -3.8 125.9zM1514.4 1673l4.2 0 -0.9-7 -1.4-3.1zM599.8 1241.3l1.7 7.3 1.5 3 1.5-0.2 1.4-3.3 1.5-6.3 3-20.2 4.4-43.3 3.7-44.9 -3.4-72 -3.4-53.9 -4.3-42.6 -1.5-7.2 -1.4-3.1 -1.5 0.8 -1.5 4.8 -4.4 34.4 -10.1 138.8 10.1 89.5zM1561 1151.4l2.5 10.5 1.5 0.6 1.4-3.5 1.5-7.2 2.7-18.4 -2.7-15.7 -1.5-5.8 -1.4-2.8 -1.5 0.9 -1.5 4.3 -3.4 19.1zM1203.3 773.6l1.7 2.4 1.4 0.4 1.5-1.2 1.5-2.7 8.8-30.4 7.4-31.3 11.8-59.8 12.8-57.3 3.4-233.8 2.6-305.8 -52.7 0 -10.3 239.8 -8.6 299.8 4.1 71.1 4.5 54.8 4.4 33.9 2.9 12.9zM1324.1 773.6l1.8 5.7 1.5 2.1 1.5-0.3 2.9-7.3 3-13.3 4.4-25.5 3-21.3 5.9-56.4 4.6-63.6 -3.9-125.9 -5.1-89.9 -3.3-36 -4.1-31.7 -4.5-23 -1.4-4.5 -1.5-2.3 -1.5 0.2 -1.5 2.9 -2.9 12.4 -7.4 44.5 -2.9 23.6 -3 41 -5.9 133.4 -3.4 55.3 3.4 22.1 1.5 14.5 4.4 57.3 3 28.6 2.9 17.8zM284.1 647.7l3.2 10.3 1.4 2.4 1.5 0.5 1.5-1.4 1.5-3.2 2.9-11.1 4.4-22.9 4.6-28.6 -5.7-53.9 -4.8-36.4 -2.9-14.3 -1.5-3.4 -1.5-0.6 -1.4 2.2 -1.5 4.9 -4.4 27.6 -4.1 38 -2.9 35.9 4 25.3z"/>
<path fill="#0bff00" d="M708.8 1673l58.6 0 10.9-233.8 2.8-72 6.8-233.8 -6.4-150.8 -4.4-73.2 -11.8-149.8 -4.4-35 -13.3-84.8 -1.5-6.1 -1.5-1.3 -1.4 4.4 -1.5 10.3 -1.5 16.6 -2.2 38 -2.1 53.9 -3.8 161.9 -3 215.9 -7.4 125.9 -5.7 125.9 -3.8 125.9zM601.5 1227.8l1.5 3.1 1.5-0.2 1.4-3.6 1.5-6.7 2.2-15.1 6.9-71.9 -6.1-106.1 -3-29.2 -1.5-8.3 -1.4-3.8 -1.5 0.6 -1.5 4.9 -2.9 21.4 -4 48.5 -4.6 72 7.1 67.5zM1203.3 755.6l1.7 2.5 1.4 0.5 1.5-1.2 1.5-2.7 2.9-9 5.9-22.4 7.4-32.4 10.3-55 8.9-42.2 4.6-251.8 3.3-287.8 -47.1 0 -11.7 269.8 -7.9 269.8 4.2 68 4.4 50.2 4.5 29.8zM1323.7 755.6l2.2 7.6 1.5 2.3 1.5-0.4 1.5-2.7 2.9-11.3 7.4-44.7 5.9-53.8 4.6-58.9 -3.7-107.9 -5.3-89.2 -3-31.8 -4.4-33.7 -3-16.1 -1.4-5.3 -1.5-2.6 -1.5 0.1 -1.5 3.1 -2.9 13.6 -7.4 49.1 -2.9 26.5 -3.2 50.3 -5.6 143.9 5.8 73.7 3 29.9 2.9 18.6zM285.2 629.7l2.1 6.6 1.4 2.4 1.5 0.5 1.5-1.5 2.9-8.6 6.7-35.4 -6.7-55.4 -2.9-14.5 -1.5-3.2 -1.5-0.2 -1.4 2.9 -3 14.1 -6.2 56.3z"/>
<path fill="#21ff00" d="M709.8 1673l56.2 0 14-315.5 6.5-224.1 -6.1-143.9 -4.5-72 -10.6-136.5 -3-24 -4.4-25.7 -8.8-41.4 -1.5-5.2 -1.5-1.9 -1.5 3.2 -1.4 9.1 -1.5 15.6 -4 80.9 -3.7 143.9 -3.1 197.9 -7.4 125.9 -6 125.9 -4.1 125.9zM601.1 1205.3l1.9 4.9 1.5-0.3 1.4-3.8 3-16.9 5.5-55.8 -2.5-47.5 -3-40.8 -2.4-19.7 -2-7.9 -1.5 0.3 -1.5 4.9 -2.9 22.9 -6.1 87.8 4.6 45.6zM1203.4 737.6l1.6 2.5 1.4 0.7 1.5-1.2 1.5-2.8 7.4-26.3 8.8-39.5 14.3-77.3 5.8-269.8 3.7-269.8 -41.8 0 -2.6 75.2 -10.4 226.3 -7.2 238.1 3.5 54 3.7 43.5 4.5 31.4zM1323.3 737.6l2.6 9.6 1.5 2.3 1.5-0.3 1.5-2.9 2.9-11.8 5.9-35.6 5.9-51.2 4.5-54 -4.3-107.9 -4.6-71.1 -6-54.8 -2.9-17.2 -1.4-5.9 -1.5-3.1 -1.5 0.1 -1.5 3.3 -2.9 14.8 -7.4 53.8 -2.7 26.1 -3.2 54.4 -3.8 107.5 3.8 53.5 3 31.2 2.9 19.4zM286.3 611.7l2.4 5.3 1.5 0.5 1.5-1.6 1.5-3.7 4.1-18.5 -4.1-29.1 -1.5-6.1 -1.5-3 -1.5 0.2 -1.4 3.6 -1.5 6.7 -3.7 27.7z"/>
<path fill="#36ff00" d="M710.9 1673l53.7 0 14-316.2 2.9-85 3.7-138.4 -5.2-124.6 -2.9-49.3 -8.9-123.3 -4.4-46.6 -2.9-19 -4.5-19.1 -5.9-17.2 -1.4-3.4 -1.5-1.3 -1.5 2.3 -1.1 5.7 -1.8 15.8 -4 74.2 -3.5 125.9 -3.1 179.9 -8.4 143.9 -5.8 125.9 -4.3 125.9zM603 1189.5l1.5-0.4 1.4-4 1.5-7.3 5-44.4 -3.5-54 -1.9-18 -1.1-7.3 -1.4-5.2 -1.5 0 -1.5 5.1 -1.5 9.9 -2.9 32.8 -2.4 36.7 3.9 36.1 1.4 9.9zM1203.5 719.6l1.5 2.6 1.4 0.7 1.5-1.1 3-7 2.9-11 10.3-45.1 11.5-65 7.1-323.7 3.5-215.9 -36.8 0 -3.4 107.9 -8.4 172.3 -3 72 -5.7 187.4 3.7 54 3.5 36.3 3 19.5zM1323 719.6l2.9 11.6 1.5 2.4 1.5-0.4 1.5-3 2.9-12.2 5.9-37.1 4.4-38.3 4.4-48.9 -3.9-89.9 -4.9-71.9 -5.9-52.5 -2.9-15.5 -1.5-3.5 -1.5 0 -1.5 3.5 -2.6 14 -9.2 74.7 -3.4 51.2 -3.2 89.9 5.2 65.8 2.9 20.2zM287.8 593.7l0.9 1.7 1.5 0.4 1.5-1.7 -1.5-3.7 -1.5 0.7z"/>
<path fill="#4cff00" d="M711.9 1673l51.5 0 13.7-318.4 3.5-95.3 3.5-125.9 -2.9-72 -5-89.9 -8-113.7 -2.9-34 -3-22.4 -2.9-13.8 -1.5-5 -2.9-6.4 -4.5-4.4 -1.4 0.2 -1.5 2.5 -1.5 6.5 -2.8 28.6 -2 36 -4 125.9 -3 161.9 -8.4 143.9 -6 125.9 -4.5 125.9zM599 1151.4l2.5 14 1.5 3.4 1.5-0.4 1.4-4.2 1.5-7.8 2.8-23 -2.8-35.9 -1.5-11.3 -1.4-5.8 -1.5-0.3 -1.5 5.2 -1.5 10.4 -3.1 37.7zM1203.5 701.7l1.5 2.6 1.4 0.8 1.5-1.1 1.5-2.8 2.9-9.7 10.4-45 9.1-52.8 2.7-148.9 8.4-390.7 -31.4 0 -3.7 125.9 -11.7 238.3 -5.8 175.4 5.8 70.3 3 20.5zM1322.7 701.7l3.2 13.4 1.5 2.5 1.5-0.3 2.9-8.6 5.9-35 4.5-36.2 4.1-43.8 -4.1-85.5 -4.5-59.9 -5.9-50.2 -1.4-7.2 -1.5-3.8 -1.5-0.1 -1.5 3.8 -2.9 17.1 -8.9 78.6 -2.9 45.4 -2.4 61.8 2.4 32 2.4 22z"/>
<path fill="#62ff00" d="M712.9 1673l49.2 0 16.5-393.1 4.3-146.5 -4.9-108 -11.2-164.7 -4.5-37.1 -2.9-11.8 -1.5-3.5 -1.5-2 -1.4-0.7 -3 1.7 -1.5 2.1 -2.9 10 -3 27.2 -2 34.9 -3.7 108 -3 143.9 -8.4 143.9 -6.5 133.6 -4.4 119.3zM599.5 1133.4l2 11.2 1.5 3.5 1.5-0.5 1.4-4.4 1.8-9.8 -1.8-15.1 -1.4-6.5 -1.5-0.6 -1.5 5.4zM1327.4 701.7l1.5-0.4 1.5-3.2 4.4-22.1 4.4-31.3 5.3-51 -3.8-73.3 -4.4-56.3 -4.5-38.3 -1.4-7.8 -1.5-4.2 -1.5-0.2 -1.5 4 -2.9 18.3 -7.4 67.9 -2.9 37.5 -2.5 52.4 2.5 28 2.9 21.8 7.4 43.2 2.9 12.4zM1203.6 683.7l1.4 2.7 1.4 0.9 1.5-1 3-7.4 10.3-44.4 7.3-40.8 3.7-251.8 6.7-287.8 -24.9 0 -4.9 161.9 -11.5 218.3 -5.7 159.4 2.7 35.3 3 27 2.9 16.9z"/>
<path fill="#77ff00" d="M713.9 1673l47.1 0 2.8-84 14.1-329.7 3.9-125.9 -4.7-98.7 -10.3-152.6 -1.5-15.6 -3-20.8 -2.9-9.7 -1.5-2.1 -1.5-0.2 -1.4 1.4 -3 6.6 -2.9 12.3 -3 25.2 -2.4 38.3 -3.3 90 -2.9 125.9 -8.5 143.9 -6.5 133.4 -5.2 136.4zM1326.3 683.7l1.1 2 1.5-0.3 1.5-3.4 2.9-13.7 5.5-38.6 3.9-36 -3.5-61.2 -4.4-53.4 -4.4-34 -1.5-4.6 -1.5-0.3 -1.5 4.2 -1.4 8.2 -5.7 51.2 -4.7 50.5 -2.3 39.4 4.5 36 6.7 40.5zM1203.6 665.7l1.4 2.7 1.4 1.1 1.5-1 3-7.5 8.8-38.4 5.5-28.9 2.5-269.8 6.2-269.8 -15.7 0 -1.8 72 -3.5 89.9 -4.6 89.9 -9.2 148.7 -5.6 139.1 4.1 42.7 2.9 17.9z"/>
<path fill="#8dff00" d="M715 1673l44.9 0 2.7-89.9 13.8-323.8 4.3-125.9 -3.6-73.6 -10.3-156.3 -1.5-15.6 -3-20 -1.4-5.1 -1.5-2.7 -1.5-0.5 -1.5 1.5 -1.4 3.4 -4.5 20 -2.9 24.7 -3 44.5 -2.9 75.4 -2.6 104.3 -10.5 179.8 -6.6 143.9 -3.9 105.3zM1325.6 665.7l1.8 4.1 1.5-0.4 1.5-3.5 2.9-14.2 4.4-30.9 3.2-27.1 -3.2-49.1 -4.4-50.9 -2.9-21.5 -1.5-5 -1.5-0.4 -1.5 4.4 -2.9 20.7 -6.4 65.9 -2.8 35.9 8.2 54zM1205 650.5l1.4 1.2 1.5-1 1.5-3 4.4-16.8 7.9-37.2 -0.8-143.9 -1.2-77.6 -1.5-35.3 -1.4-12.7 -1.5-3 -1.5 3.7 -2.9 22.3 -7.4 86.4 -4.4 71.4 -3.9 88.7 3.9 33.6 2.9 14.9z"/>
<path fill="#a3ff00" d="M716 1673l42.8 0 3-107.9 8-179.9 9.8-251.8 -4-73.3 -8.8-135.2 -3-27.1 -1.5-7.7 -1.4-4.3 -1.5-1.5 -1.5 0.9 -1.5 3.3 -4.4 22.2 -2.9 25.4 -3 41.3 -2.9 67.7 -2.5 88.3 -10.8 184.6 -5.8 121.2 -4.5 116.5zM1325.1 647.7l2.3 6.1 1.5-0.3 1.5-3.6 2.9-14.8 5.6-41.4 -4-53.9 -3.1-30.8 -1.4-9.8 -1.5-5.3 -1.5-0.5 -1.5 4.6 -2.9 21.9 -6.7 73.8zM1203.7 629.7l1.3 2.9 1.4 1.3 1.5-1 1.5-3 2.9-10.7 5.6-25.5 -2.6-108.2 -2.1-35.7 -0.9-7.9 -1.4-5.1 -1.5 2 -1.5 6.9 -2.9 24.9 -4.5 59.7 -3.3 63.4 3.3 23.2z"/>
<path fill="#b8ff00" d="M717.1 1673l40.6 0 3.2-125.9 7.3-158 10.1-255.7 -11.5-187.1 -3-26.9 -1.5-7.1 -1.4-3.4 -1.5-0.4 -1.5 2.4 -1.5 5 -3.2 19.6 -3.7 36 -2.4 36 -5.7 143.9 -10 167.3 -5.1 102.5 -5.2 125.9zM1325.9 634.9l1.5 3 1.5-0.4 2.9-10.3 4.9-33.5 -4.9-57 -1.4-10.4 -1.5-5.8 -1.5-0.5 -1.5 4.8 -1.4 9.7 -5.6 59.2zM1203.8 611.7l1.2 2.9 1.4 1.4 1.5-0.9 3-7.9 3.1-13.5 -1.7-44 -1.4-23.2 -1.5-11.2 -1.5-2.4 -1.5 4.5 -2.9 24.6 -3.7 51.7z"/>
<path fill="#ceff00" d="M718.2 1673l38.5 0 1.2-72 2-71.9 8.3-173 8.8-222.7 -10.2-165.7 -3-26.6 -1.5-6.6 -1.4-2.6 -1.5 0.8 -1.5 3.8 -2.9 16.3 -3.8 36.7 -2.6 35.9 -6.2 143.9 -9.6 151.4 -4.4 83.5 -5.9 139.7zM1325.9 618.9l1.5 3.1 1.5-0.5 2.9-10.5 2.7-17.3 -4.1-40.3 -1.5-6.2 -1.5-0.6 -1.5 5.1 -1.4 10.1 -3.1 31.9zM1203.8 593.7l1.2 3 1.4 1.5 1.5-0.9 1.6-3.6 -1.6-13.6 -1.5-1.7 -1.4 5.9z"/>
<path fill="#e4ff00" d="M719.3 1673l36.4 0 1.3-89.9 1.8-72 8-154.8 8.8-222.9 -8.8-144.3 -3-26.4 -1.5-6 -1.4-1.7 -1.5 1.9 -1.5 5.3 -2.9 20.1 -3 31.8 -2.9 45.1 -6.6 146.1 -9.7 142.6 -3 55.3 -5.5 125.9zM1324 593.7l1.9 9.2 1.5 3.1 1.5-0.4 1.5-4 1.6-7.9 -1.6-13.3 -1.5-6.5 -1.5-0.7 -1.5 5.3z"/>
<path fill="#faff00" d="M720.4 1673l34.3 0 1.2-107.9 2-85.5 1.8-40.4 7.1-116 7.5-189.8 -7.5-122.9 -3-26.1 -1.5-5.5 -1.4-0.9 -1.5 3.1 -3 17 -4 45.3 -4 72 -3.5 89.9 -12.1 169.9 -5.9 120.8z"/>
<path fill="#ffef00" d="M721.5 1673l32.2 0 1.1-143.9 1.6-76.3 2.5-49.6 4.9-61.8 3-51.2 6.1-156.8 -6.1-101.5 -1.5-15.7 -1.5-10.2 -1.5-4.9 -1.4 0 -1.5 4.2 -1.5 8.2 -2.9 27.7 -3 41.8 -2.6 50.4 -2.5 89.9 -11.1 137 -4.4 68.1 -4.6 100.7z"/>
<path fill="#ffd900" d="M722.6 1673l30.1 0 0.6-179.9 1.4-89.9 2.1-36 5.5-44.4 3-38.3 6.4-151.1 -4.9-80.1 -1.5-15.7 -1.5-9.9 -1.5-4.4 -1.4 0.8 -1.5 5.4 -2 13.9 -2.4 27.2 -2.9 44.8 -0.9 18 -1.2 107.9 -1.7 36 -5.1 35.3 -3 26.9 -4.4 48.9 -3 41.2 -4.4 89.9z"/>
<path fill="#ffc300" d="M723.8 1673l27.9 0 -0.6-179.9 -1.1-89.9 -0.9-24.4 -1.5-19.5 -1.5-8.5 -1.5-1.8 -1.4 3.6 -3 19.8 -4.4 44.2 -3 40.2 -4.3 90.3zM757.9 1296.5l1.5 0.3 1.5-3.8 2.9-22.3 3-46.6 3.6-90.7 -3.6-58.7 -1.5-15.7 -1.5-9.7 -1.5-3.8 -1.4 1.6 -3 17.7 -2.7 32.6 -2.2 36 1.4 125.9 0.8 18 1.2 13.3z"/>
<path fill="#ffae00" d="M724.8 1673l25.8 0 -0.8-125.9 -1.5-90 -2.2-49.4 -1.5-12.3 -1.4-2.9 -1.5 4 -3 20.2 -2.9 28 -3 39.3 -3.9 81.1zM759.4 1247.2l1.5 3.1 1.4-3.9 1.5-11.1 1.5-18.3 3.9-83.6 -3.9-53 -1.5-9.4 -1.5-3.3 -1.4 2.5 -3 20.2 -3.2 43 1.6 71.9z"/>
<path fill="#ff9800" d="M725.9 1673l23.8 0 -1.1-107.9 -1.5-72 -2.5-51.3 -1.4-9.3 -1.5-0.3 -1.5 5.9 -2.9 21 -4.5 52.1 -2.9 58.8zM760.9 1207.7l1.4 0.5 1.5-8.2 1.5-16.8 2.6-49.8 -2.6-31.6 -1.5-9.2 -1.5-2.8 -1.4 3.4 -1.5 8.9 -2.8 31.3 1.3 41.1 1.5 23z"/>
<path fill="#ff8200" d="M727 1673l21.7 0 -2.6-151.6 -1.5-33.2 -1.4-15.8 -1.5-4.4 -1.5 2.9 -1.5 7.4 -4.4 38.8 -2.9 48.5zM762.3 1170.1l1.5-5.5 2.5-31.2 -2.5-19.2 -1.5-2.2 -1.4 4.3 -2.2 17.1 2.2 31.6z"/>
<path fill="#ff6d00" d="M728.1 1673l19.7 0 -2.7-125.9 -1.9-34.8 -1.5-8.6 -1.5 0.1 -1.5 5.2 -2.9 20 -1.5 15.5 -2.9 48.6z"/>
<path fill="#ff5700" d="M729.1 1673l17.7 0 -1.5-72 -1.4-35.9 -2.2-25.7 -1.5-2.8 -1.5 3.2 -1.4 7 -3 25.2 -2.9 48.5z"/>
<path fill="#ff4100" d="M730.3 1673l15.4 0 -2.5-80.8 -1.5-17 -1.5-5.7 -1.5 1.1 -1.4 5.4 -3 23.4z"/>
<path fill="#ff2b00" d="M731.5 1673l13.1 0 -1.4-40.8 -1.5-21.3 -1.5-8.5 -1.5-1 -1.4 3.8 -1.5 8.2 -1.5 13.4z"/>
<path fill="#ff1600" d="M732.9 1673l10.3 0 -1.5-26.4 -1.5-11.4 -1.5-3 -1.4 2.3 -1.5 7z"/>
<path fill="#ff0000" d="M735.4 1673l5.3 0 -0.5-4.9 -1.5-5.2 -1.4 0.8z"/>
</g>
<g stroke="#000" stroke-width="6.2" fill="none" stroke-linecap="butt">
<rect x="243" y="54.1" width="1620.5" height="1618.9"/>
<line x1="209.5" y1="1673" x2="243" y2="1673"/>
<line x1="209.5" y1="1133.37" x2="243" y2="1133.37"/>
<line x1="209.5" y1="593.73" x2="243" y2="593.73"/>
<line x1="209.5" y1="54.1" x2="243" y2="54.1"/>
<line x1="388.1" y1="1673" x2="388.1" y2="1705"/>
<line x1="683.18" y1="1673" x2="683.18" y2="1705"/>
<line x1="978.26" y1="1673" x2="978.26" y2="1705"/>
<line x1="1273.34" y1="1673" x2="1273.34" y2="1705"/>
<line x1="1568.42" y1="1673" x2="1568.42" y2="1705"/>
<line x1="1863.5" y1="1673" x2="1863.5" y2="1705"/>
</g>
<g font-size="72" text-anchor="middle">
<text transform="translate(388.3 1784.3) scale(1 1.04)">1200</text>
<text transform="translate(683.38 1784.3) scale(1 1.04)">1300</text>
<text transform="translate(978.46 1784.3) scale(1 1.04)">1400</text>
<text transform="translate(1273.54 1784.3) scale(1 1.04)">1500</text>
<text transform="translate(1568.62 1784.3) scale(1 1.04)">1600</text>
<text transform="translate(1863.7 1784.3) scale(1 1.04)">1700</text>
<text transform="translate(165.8 1694.3) scale(1 1.04)">1</text>
<text transform="translate(165.8 1154.67) scale(1 1.04)">2</text>
<text transform="translate(165.8 615.03) scale(1 1.04)">3</text>
<text transform="translate(165.8 75.4) scale(1 1.04)">4</text>
</g>
<text x="657" y="1942.6" font-size="88">Wavenumber (cm<tspan font-size="64" dx="2" dy="-38">−1</tspan><tspan font-size="88" dx="1.5" dy="38">)</tspan></text>
<text transform="translate(89.6 1172) rotate(-90)" font-size="88">Sample number</text>
<rect x="1915.7" y="51.8" width="69.9" height="31.8" fill="#fff"/>
<rect x="1915.7" y="83.6" width="69.9" height="32.98" fill="#ff0000"/>
<rect x="1915.7" y="115.98" width="69.9" height="32.98" fill="#ff1600"/>
<rect x="1915.7" y="148.37" width="69.9" height="32.98" fill="#ff2b00"/>
<rect x="1915.7" y="180.75" width="69.9" height="32.98" fill="#ff4100"/>
<rect x="1915.7" y="213.13" width="69.9" height="32.98" fill="#ff5700"/>
<rect x="1915.7" y="245.52" width="69.9" height="32.98" fill="#ff6d00"/>
<rect x="1915.7" y="277.9" width="69.9" height="32.98" fill="#ff8200"/>
<rect x="1915.7" y="310.28" width="69.9" height="32.98" fill="#ff9800"/>
<rect x="1915.7" y="342.67" width="69.9" height="32.98" fill="#ffae00"/>
<rect x="1915.7" y="375.05" width="69.9" height="32.98" fill="#ffc300"/>
<rect x="1915.7" y="407.43" width="69.9" height="32.98" fill="#ffd900"/>
<rect x="1915.7" y="439.82" width="69.9" height="32.98" fill="#ffef00"/>
<rect x="1915.7" y="472.2" width="69.9" height="32.98" fill="#faff00"/>
<rect x="1915.7" y="504.58" width="69.9" height="32.98" fill="#e4ff00"/>
<rect x="1915.7" y="536.97" width="69.9" height="32.98" fill="#ceff00"/>
<rect x="1915.7" y="569.35" width="69.9" height="32.98" fill="#b8ff00"/>
<rect x="1915.7" y="601.73" width="69.9" height="32.98" fill="#a3ff00"/>
<rect x="1915.7" y="634.12" width="69.9" height="32.98" fill="#8dff00"/>
<rect x="1915.7" y="666.5" width="69.9" height="32.98" fill="#77ff00"/>
<rect x="1915.7" y="698.88" width="69.9" height="32.98" fill="#62ff00"/>
<rect x="1915.7" y="731.27" width="69.9" height="32.98" fill="#4cff00"/>
<rect x="1915.7" y="763.65" width="69.9" height="32.98" fill="#36ff00"/>
<rect x="1915.7" y="796.03" width="69.9" height="32.98" fill="#21ff00"/>
<rect x="1915.7" y="828.42" width="69.9" height="32.98" fill="#0bff00"/>
<rect x="1915.7" y="860.8" width="69.9" height="32.98" fill="#00ff0b"/>
<rect x="1915.7" y="893.18" width="69.9" height="32.98" fill="#00ff21"/>
<rect x="1915.7" y="925.57" width="69.9" height="32.98" fill="#00ff36"/>
<rect x="1915.7" y="957.95" width="69.9" height="32.98" fill="#00ff4c"/>
<rect x="1915.7" y="990.33" width="69.9" height="32.98" fill="#00ff62"/>
<rect x="1915.7" y="1022.72" width="69.9" height="32.98" fill="#00ff77"/>
<rect x="1915.7" y="1055.1" width="69.9" height="32.98" fill="#00ff8d"/>
<rect x="1915.7" y="1087.48" width="69.9" height="32.98" fill="#00ffa3"/>
<rect x="1915.7" y="1119.87" width="69.9" height="32.98" fill="#00ffb8"/>
<rect x="1915.7" y="1152.25" width="69.9" height="32.98" fill="#00ffce"/>
<rect x="1915.7" y="1184.63" width="69.9" height="32.98" fill="#00ffe4"/>
<rect x="1915.7" y="1217.02" width="69.9" height="32.98" fill="#00fffa"/>
<rect x="1915.7" y="1249.4" width="69.9" height="32.98" fill="#00efff"/>
<rect x="1915.7" y="1281.78" width="69.9" height="32.98" fill="#00d9ff"/>
<rect x="1915.7" y="1314.17" width="69.9" height="32.98" fill="#00c3ff"/>
<rect x="1915.7" y="1346.55" width="69.9" height="32.98" fill="#00aeff"/>
<rect x="1915.7" y="1378.93" width="69.9" height="32.98" fill="#0098ff"/>
<rect x="1915.7" y="1411.32" width="69.9" height="32.98" fill="#0082ff"/>
<rect x="1915.7" y="1443.7" width="69.9" height="32.98" fill="#006dff"/>
<rect x="1915.7" y="1476.08" width="69.9" height="32.98" fill="#0057ff"/>
<rect x="1915.7" y="1508.47" width="69.9" height="32.98" fill="#0041ff"/>
<rect x="1915.7" y="1540.85" width="69.9" height="32.98" fill="#002bff"/>
<rect x="1915.7" y="1573.23" width="69.9" height="32.98" fill="#0016ff"/>
<rect x="1915.7" y="1605.62" width="69.9" height="32.98" fill="#0000ff"/>
<rect x="1915.7" y="1638" width="69.9" height="32" fill="#000"/>
<rect x="1915.7" y="51.8" width="69.9" height="1618.2" fill="none" stroke="#000" stroke-width="3.8"/>
<g stroke="#000" stroke-width="3.7">
<line x1="1985.6" y1="83.6" x2="2018.2" y2="83.6"/>
<line x1="1985.6" y1="277.9" x2="2018.2" y2="277.9"/>
<line x1="1985.6" y1="472.2" x2="2018.2" y2="472.2"/>
<line x1="1985.6" y1="666.5" x2="2018.2" y2="666.5"/>
<line x1="1985.6" y1="860.8" x2="2018.2" y2="860.8"/>
<line x1="1985.6" y1="1055.1" x2="2018.2" y2="1055.1"/>
<line x1="1985.6" y1="1249.4" x2="2018.2" y2="1249.4"/>
<line x1="1985.6" y1="1443.7" x2="2018.2" y2="1443.7"/>
<line x1="1985.6" y1="1638" x2="2018.2" y2="1638"/>
</g>
<g font-size="56.3">
<text transform="translate(2040 106.5) scale(1 1.04)">1.7<tspan font-weight="bold" font-size="47" dx="2.7" dy="-3">×</tspan><tspan dx="2.7" dy="3">10</tspan><tspan font-size="37" dy="-22.4">−2</tspan></text>
<text transform="translate(2040 300.8) scale(1 1.04)">1.5<tspan font-weight="bold" font-size="47" dx="2.7" dy="-3">×</tspan><tspan dx="2.7" dy="3">10</tspan><tspan font-size="37" dy="-22.4">−2</tspan></text>
<text transform="translate(2040 495.1) scale(1 1.04)">1.3<tspan font-weight="bold" font-size="47" dx="2.7" dy="-3">×</tspan><tspan dx="2.7" dy="3">10</tspan><tspan font-size="37" dy="-22.4">−2</tspan></text>
<text transform="translate(2040 689.4) scale(1 1.04)">1.1<tspan font-weight="bold" font-size="47" dx="2.7" dy="-3">×</tspan><tspan dx="2.7" dy="3">10</tspan><tspan font-size="37" dy="-22.4">−2</tspan></text>
<text transform="translate(2040 883.7) scale(1 1.04)">8.6<tspan font-weight="bold" font-size="47" dx="2.7" dy="-3">×</tspan><tspan dx="2.7" dy="3">10</tspan><tspan font-size="37" dy="-22.4">−3</tspan></text>
<text transform="translate(2040 1078) scale(1 1.04)">6.5<tspan font-weight="bold" font-size="47" dx="2.7" dy="-3">×</tspan><tspan dx="2.7" dy="3">10</tspan><tspan font-size="37" dy="-22.4">−3</tspan></text>
<text transform="translate(2040 1272.3) scale(1 1.04)">4.3<tspan font-weight="bold" font-size="47" dx="2.7" dy="-3">×</tspan><tspan dx="2.7" dy="3">10</tspan><tspan font-size="37" dy="-22.4">−3</tspan></text>
<text transform="translate(2040 1466.6) scale(1 1.04)">2.2<tspan font-weight="bold" font-size="47" dx="2.7" dy="-3">×</tspan><tspan dx="2.7" dy="3">10</tspan><tspan font-size="37" dy="-22.4">−3</tspan></text>
<text transform="translate(2040 1660.9) scale(1 1.04)">5.0<tspan font-weight="bold" font-size="47" dx="2.7" dy="-3">×</tspan><tspan dx="2.7" dy="3">10</tspan><tspan font-size="37" dy="-22.4">−5</tspan></text>
</g>
</svg>
</body></html>
